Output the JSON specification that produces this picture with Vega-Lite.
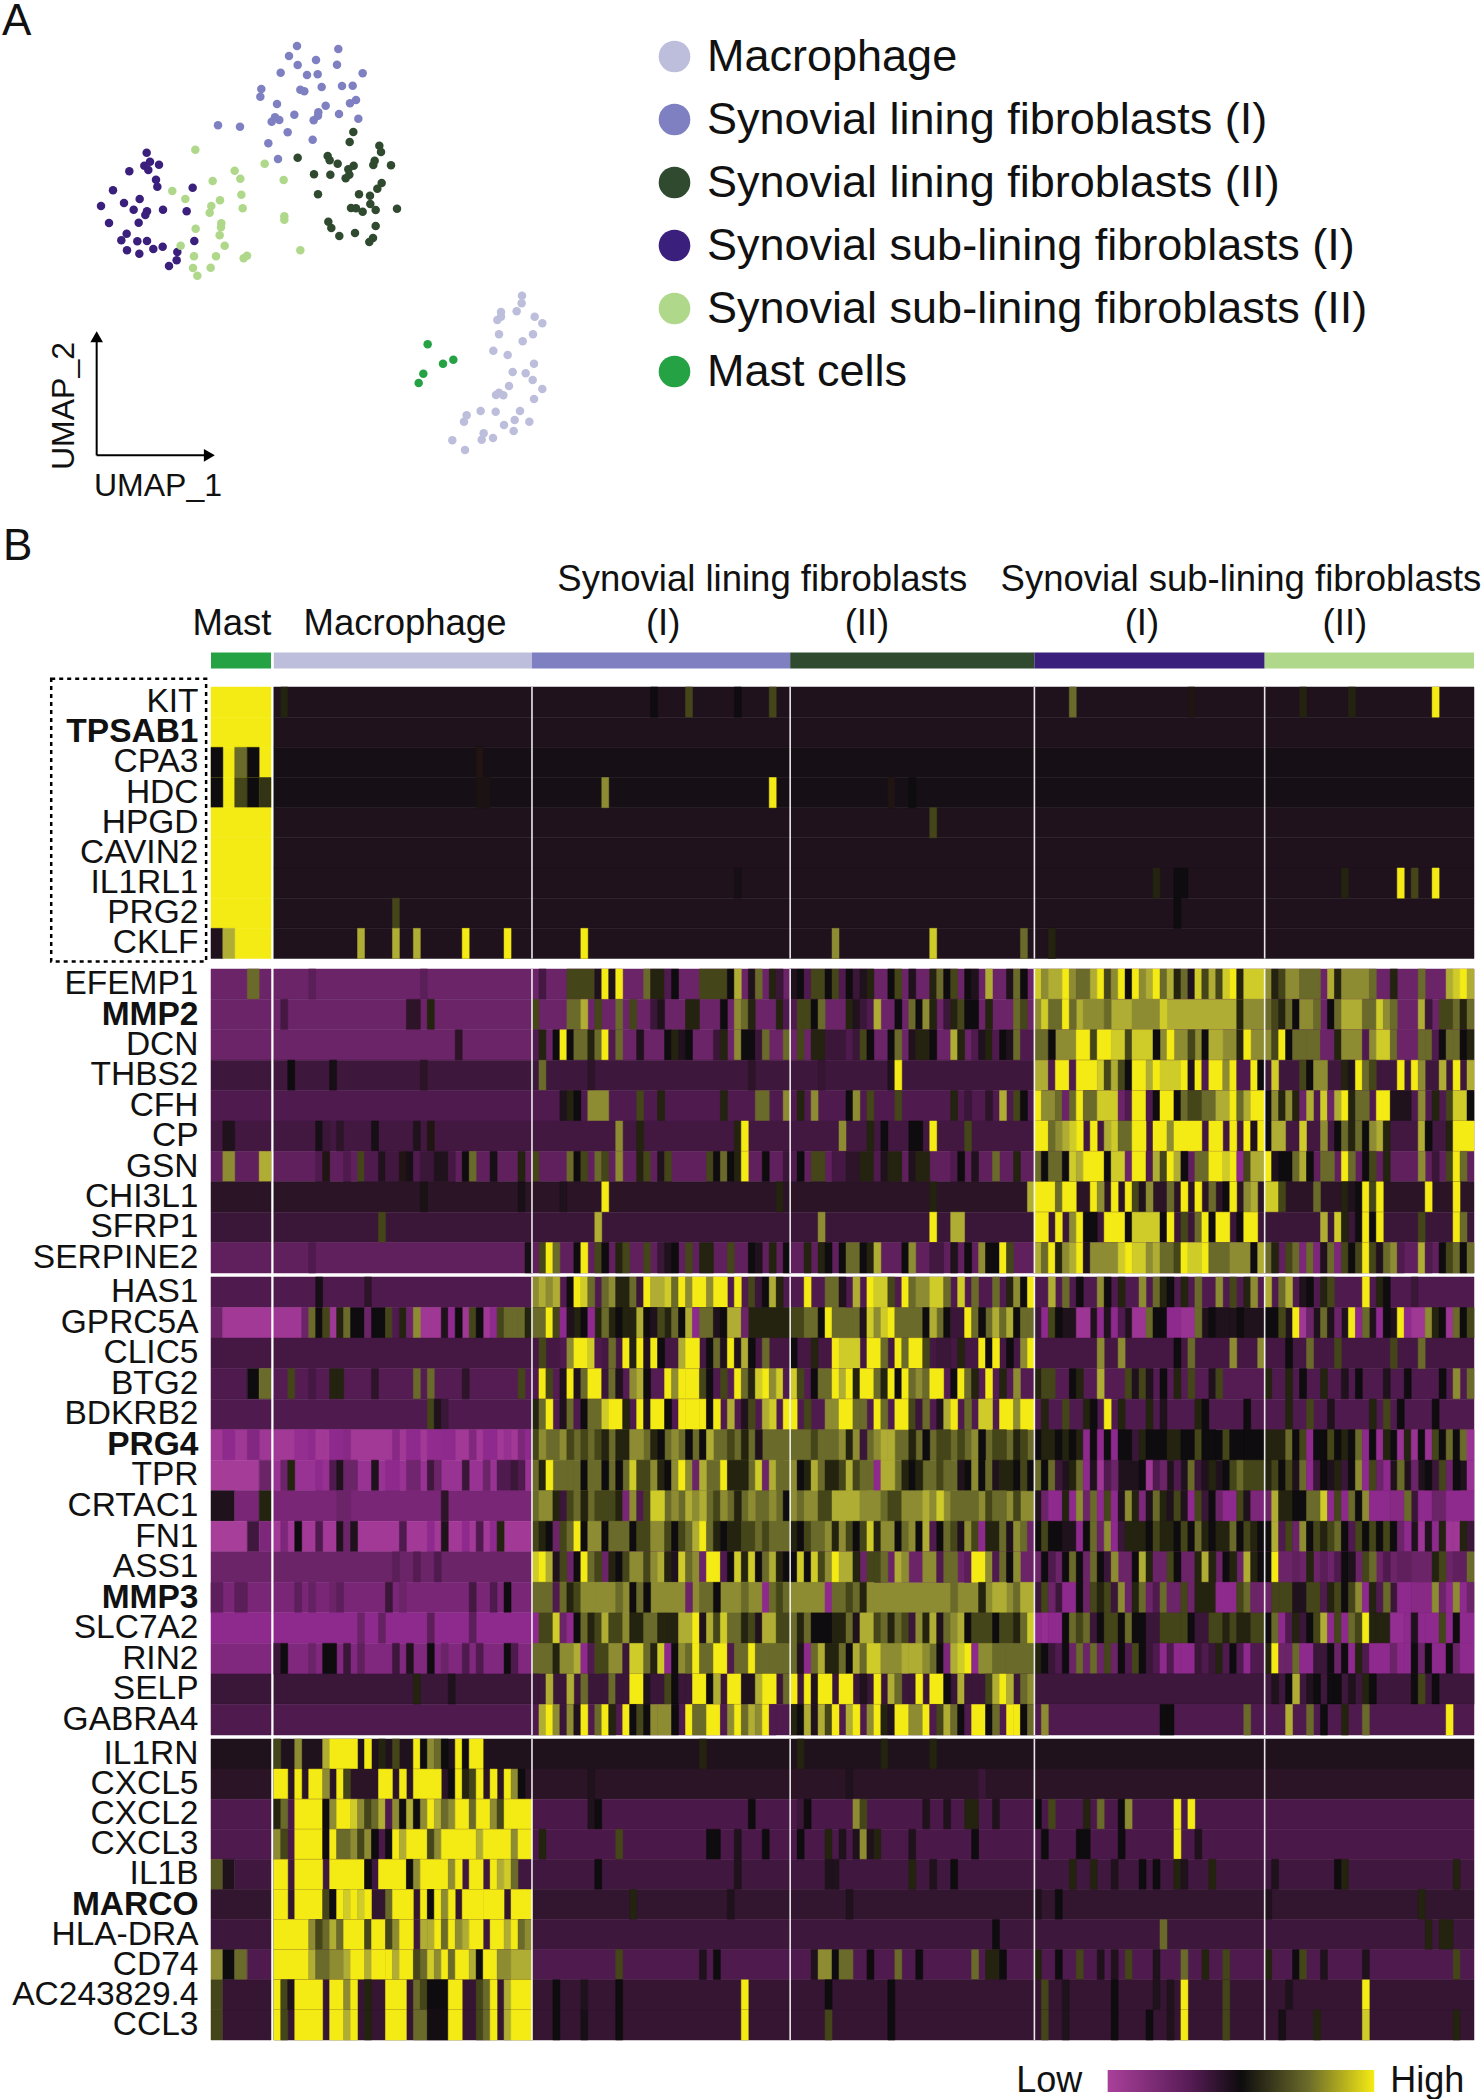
{"$schema":"https://vega.github.io/schema/vega-lite/v6.json","background":"white","padding":{"left":2,"top":0,"right":0,"bottom":0},"bounds":"flush","spacing":4,"config":{"view":{"stroke":null},"text":{"font":"Liberation Sans"},"font":"Liberation Sans"},"vconcat":[
{"width":1263,"height":514.5,"layer":[
{"data":{"values":"u,w,n\n708,66,Synovial lining fibroblasts (I)\n832,75,Synovial lining fibroblasts (I)\n684,96,Synovial lining fibroblasts (I)\n765,108,Synovial lining fibroblasts (I)\n710,123,Synovial lining fibroblasts (I)\n828,122,Synovial lining fibroblasts (I)\n659,146,Synovial lining fibroblasts (I)\n738,153,Synovial lining fibroblasts (I)\n770,151,Synovial lining fibroblasts (I)\n905,148,Synovial lining fibroblasts (I)\n601,195,Synovial lining fibroblasts (I)\n598,218,Synovial lining fibroblasts (I)\n718,197,Synovial lining fibroblasts (I)\n730,202,Synovial lining fibroblasts (I)\n782,189,Synovial lining fibroblasts (I)\n843,186,Synovial lining fibroblasts (I)\n875,185,Synovial lining fibroblasts (I)\n648,240,Synovial lining fibroblasts (I)\n885,228,Synovial lining fibroblasts (I)\n867,238,Synovial lining fibroblasts (I)\n794,245,Synovial lining fibroblasts (I)\n700,272,Synovial lining fibroblasts (I)\n772,265,Synovial lining fibroblasts (I)\n771,275,Synovial lining fibroblasts (I)\n834,270,Synovial lining fibroblasts (I)\n758,289,Synovial lining fibroblasts (I)\n892,284,Synovial lining fibroblasts (I)\n642,280,Synovial lining fibroblasts (I)\n632,293,Synovial lining fibroblasts (I)\n655,288,Synovial lining fibroblasts (I)\n680,325,Synovial lining fibroblasts (I)\n755,347,Synovial lining fibroblasts (I)\n622,358,Synovial lining fibroblasts (I)\n651,405,Synovial lining fibroblasts (I)\n471,304,Synovial lining fibroblasts (I)\n537,308,Synovial lining fibroblasts (I)\n877,324,Synovial lining fibroblasts (II)\n866,354,Synovial lining fibroblasts (II)\n955,365,Synovial lining fibroblasts (II)\n960,384,Synovial lining fibroblasts (II)\n710,401,Synovial lining fibroblasts (II)\n800,396,Synovial lining fibroblasts (II)\n806,409,Synovial lining fibroblasts (II)\n830,419,Synovial lining fibroblasts (II)\n878,425,Synovial lining fibroblasts (II)\n862,436,Synovial lining fibroblasts (II)\n941,410,Synovial lining fibroblasts (II)\n937,423,Synovial lining fibroblasts (II)\n990,424,Synovial lining fibroblasts (II)\n759,451,Synovial lining fibroblasts (II)\n808,452,Synovial lining fibroblasts (II)\n865,452,Synovial lining fibroblasts (II)\n854,463,Synovial lining fibroblasts (II)\n962,477,Synovial lining fibroblasts (II)\n949,494,Synovial lining fibroblasts (II)\n771,511,Synovial lining fibroblasts (II)\n894,511,Synovial lining fibroblasts (II)\n927,515,Synovial lining fibroblasts (II)\n928,540,Synovial lining fibroblasts (II)\n870,552,Synovial lining fibroblasts (II)\n885,553,Synovial lining fibroblasts (II)\n905,563,Synovial lining fibroblasts (II)\n944,558,Synovial lining fibroblasts (II)\n1008,554,Synovial lining fibroblasts (II)\n802,593,Synovial lining fibroblasts (II)\n811,612,Synovial lining fibroblasts (II)\n944,606,Synovial lining fibroblasts (II)\n835,636,Synovial lining fibroblasts (II)\n882,627,Synovial lining fibroblasts (II)\n936,642,Synovial lining fibroblasts (II)\n925,654,Synovial lining fibroblasts (II)\n257,386,Synovial sub-lining fibroblasts (I)\n267,413,Synovial sub-lining fibroblasts (I)\n250,425,Synovial sub-lining fibroblasts (I)\n294,422,Synovial sub-lining fibroblasts (I)\n262,438,Synovial sub-lining fibroblasts (I)\n205,442,Synovial sub-lining fibroblasts (I)\n285,467,Synovial sub-lining fibroblasts (I)\n289,488,Synovial sub-lining fibroblasts (I)\n395,491,Synovial sub-lining fibroblasts (I)\n156,499,Synovial sub-lining fibroblasts (I)\n236,525,Synovial sub-lining fibroblasts (I)\n189,537,Synovial sub-lining fibroblasts (I)\n120,546,Synovial sub-lining fibroblasts (I)\n218,557,Synovial sub-lining fibroblasts (I)\n258,562,Synovial sub-lining fibroblasts (I)\n253,573,Synovial sub-lining fibroblasts (I)\n306,557,Synovial sub-lining fibroblasts (I)\n377,562,Synovial sub-lining fibroblasts (I)\n144,597,Synovial sub-lining fibroblasts (I)\n233,596,Synovial sub-lining fibroblasts (I)\n197,629,Synovial sub-lining fibroblasts (I)\n181,649,Synovial sub-lining fibroblasts (I)\n229,652,Synovial sub-lining fibroblasts (I)\n258,651,Synovial sub-lining fibroblasts (I)\n305,668,Synovial sub-lining fibroblasts (I)\n400,651,Synovial sub-lining fibroblasts (I)\n277,675,Synovial sub-lining fibroblasts (I)\n198,679,Synovial sub-lining fibroblasts (I)\n235,689,Synovial sub-lining fibroblasts (I)\n349,684,Synovial sub-lining fibroblasts (I)\n347,709,Synovial sub-lining fibroblasts (I)\n324,726,Synovial sub-lining fibroblasts (I)\n403,377,Synovial sub-lining fibroblasts (II)\n611,419,Synovial sub-lining fibroblasts (II)\n521,440,Synovial sub-lining fibroblasts (II)\n538,464,Synovial sub-lining fibroblasts (II)\n455,471,Synovial sub-lining fibroblasts (II)\n668,468,Synovial sub-lining fibroblasts (II)\n334,501,Synovial sub-lining fibroblasts (II)\n373,525,Synovial sub-lining fibroblasts (II)\n541,512,Synovial sub-lining fibroblasts (II)\n477,529,Synovial sub-lining fibroblasts (II)\n451,546,Synovial sub-lining fibroblasts (II)\n446,566,Synovial sub-lining fibroblasts (II)\n545,553,Synovial sub-lining fibroblasts (II)\n670,577,Synovial sub-lining fibroblasts (II)\n670,587,Synovial sub-lining fibroblasts (II)\n481,598,Synovial sub-lining fibroblasts (II)\n404,614,Synovial sub-lining fibroblasts (II)\n480,610,Synovial sub-lining fibroblasts (II)\n476,634,Synovial sub-lining fibroblasts (II)\n359,665,Synovial sub-lining fibroblasts (II)\n491,665,Synovial sub-lining fibroblasts (II)\n399,697,Synovial sub-lining fibroblasts (II)\n465,697,Synovial sub-lining fibroblasts (II)\n558,695,Synovial sub-lining fibroblasts (II)\n548,703,Synovial sub-lining fibroblasts (II)\n718,679,Synovial sub-lining fibroblasts (II)\n396,732,Synovial sub-lining fibroblasts (II)\n449,731,Synovial sub-lining fibroblasts (II)\n409,755,Synovial sub-lining fibroblasts (II)\n1383,815,Macrophage\n1382,838,Macrophage\n1367,862,Macrophage\n1320,864,Macrophage\n1320,878,Macrophage\n1309,888,Macrophage\n1421,878,Macrophage\n1444,898,Macrophage\n1314,931,Macrophage\n1416,931,Macrophage\n1385,952,Macrophage\n1297,980,Macrophage\n1340,993,Macrophage\n1419,1019,Macrophage\n1355,1044,Macrophage\n1394,1048,Macrophage\n1415,1068,Macrophage\n1344,1086,Macrophage\n1444,1095,Macrophage\n1305,1113,Macrophage\n1314,1106,Macrophage\n1327,1114,Macrophage\n1419,1125,Macrophage\n1259,1161,Macrophage\n1304,1163,Macrophage\n1377,1161,Macrophage\n1217,1174,Macrophage\n1209,1193,Macrophage\n1361,1188,Macrophage\n1405,1193,Macrophage\n1329,1203,Macrophage\n1358,1221,Macrophage\n1268,1228,Macrophage\n1262,1247,Macrophage\n1296,1242,Macrophage\n1174,1249,Macrophage\n1212,1278,Macrophage\n1100,961,Mast cells\n1177,1007,Mast cells\n1146,1019,Mast cells\n1087,1049,Mast cells\n1073,1077,Mast cells","format":{"type":"csv","parse":{"u":"number","w":"number"}}},"mark":{"type":"point","filled":true,"size":72,"opacity":1},"encoding":{"x":{"field":"u","type":"quantitative","scale":{"domain":[450,4239],"nice":false,"zero":false},"axis":null},"y":{"field":"w","type":"quantitative","scale":{"domain":[1488,-60],"range":[516,0],"nice":false,"zero":false},"axis":null},"color":{"field":"n","type":"nominal","scale":{"domain":["Macrophage","Synovial lining fibroblasts (I)","Synovial lining fibroblasts (II)","Synovial sub-lining fibroblasts (I)","Synovial sub-lining fibroblasts (II)","Mast cells"],"range":["#BDBEDC","#7F80C2","#2F4A2F","#3B1F7C","#AFD88B","#25A244"]},"legend":{"orient":"none","legendX":441,"legendY":30,"title":null,"labelFontSize":45,"labelFont":"Liberation Sans","symbolSize":1000,"symbolType":"circle","rowPadding":17,"labelOffset":10,"labelLimit":900,"symbolOpacity":1,"labelColor":"#111"}}}},
{"data":{"values":[{"u":107,"w":1294,"u2":445,"w2":1294},{"u":107,"w":1294,"u2":107,"w2":935}]},"mark":{"type":"rule","color":"black","strokeWidth":2},"encoding":{"x":{"field":"u","type":"quantitative"},"x2":{"field":"u2"},"y":{"field":"w","type":"quantitative"},"y2":{"field":"w2"}}},
{"data":{"values":[{"u":445,"w":1294}]},"mark":{"type":"point","shape":"triangle-right","filled":true,"color":"black","size":160,"opacity":1},"encoding":{"x":{"field":"u","type":"quantitative"},"y":{"field":"w","type":"quantitative"}}},
{"data":{"values":[{"u":107,"w":938}]},"mark":{"type":"point","shape":"triangle-up","filled":true,"color":"black","size":160,"opacity":1},"encoding":{"x":{"field":"u","type":"quantitative"},"y":{"field":"w","type":"quantitative"}}},
{"data":{"values":[{"u":291,"w":1386,"t":"UMAP_1"}]},"mark":{"type":"text","fontSize":32,"color":"#111"},"encoding":{"x":{"field":"u","type":"quantitative"},"y":{"field":"w","type":"quantitative"},"text":{"field":"t"}}},
{"data":{"values":[{"u":9,"w":1146,"t":"UMAP_2"}]},"mark":{"type":"text","fontSize":32,"angle":270,"color":"#111"},"encoding":{"x":{"field":"u","type":"quantitative"},"y":{"field":"w","type":"quantitative"},"text":{"field":"t"}}},
{"data":{"values":[{"u":-177,"w":-6,"t":"A"}]},"mark":{"type":"text","fontSize":44,"align":"left","color":"#111"},"encoding":{"x":{"field":"u","type":"quantitative"},"y":{"field":"w","type":"quantitative"},"text":{"field":"t"}}}
]},
{"width":1263,"height":128,"layer":[{"data":{"values":[{"t":"Mast","c":3,"l":2},{"t":"Macrophage","c":27.8,"l":2},{"t":"Synovial lining fibroblasts","c":79,"l":1},{"t":"(I)","c":64.8,"l":2},{"t":"(II)","c":94,"l":2},{"t":"Synovial sub-lining fibroblasts","c":147.6,"l":1},{"t":"(I)","c":133.4,"l":2},{"t":"(II)","c":162.5,"l":2}]},"mark":{"type":"text","fontSize":36.5,"color":"#111"},"encoding":{"x":{"field":"c","type":"quantitative","scale":{"domain":[0,181],"nice":false,"zero":false},"axis":null},"y":{"field":"l","type":"quantitative","scale":{"domain":[-0.29,2.62],"range":[0,128],"nice":false,"zero":false},"axis":null},"text":{"field":"t"}}},{"data":{"values":[{"t":"B","c":-29.8,"l":0.26}]},"mark":{"type":"text","fontSize":44,"align":"left","color":"#111"},"encoding":{"x":{"field":"c","type":"quantitative"},"y":{"field":"l","type":"quantitative"},"text":{"field":"t"}}}]},
{"width":1263,"height":28,"data":{"values":[{"n":"Mast cells","c":0,"e":8.6},{"n":"Macrophage","c":9,"e":46},{"n":"Synovial lining fibroblasts (I)","c":46,"e":83},{"n":"Synovial lining fibroblasts (II)","c":83,"e":118},{"n":"Synovial sub-lining fibroblasts (I)","c":118,"e":151},{"n":"Synovial sub-lining fibroblasts (II)","c":151,"e":181}]},"mark":{"type":"rect","height":16,"yOffset":5.5},"encoding":{"x":{"field":"c","type":"quantitative","scale":{"domain":[0,181],"nice":false,"zero":false},"axis":null},"x2":{"field":"e"},"color":{"field":"n","type":"nominal","scale":{"domain":["Macrophage","Synovial lining fibroblasts (I)","Synovial lining fibroblasts (II)","Synovial sub-lining fibroblasts (I)","Synovial sub-lining fibroblasts (II)","Mast cells"],"range":["#BDBEDC","#7F80C2","#2F4A2F","#3B1F7C","#AFD88B","#25A244"]},"legend":null}}},
{"width":1263,"height":278,"layer":[{"data":{"values":"g,c,e,v\nKIT,0,8.6,13\nTPSAB1,0,8.6,13\nCPA3,0,8.6,13\nCPA3,0,1.7,6\nCPA3,3.4,5.2,9\nCPA3,5.2,6.9,6\nHDC,0,8.6,13\nHDC,0,1.7,6\nHDC,3.4,5.2,8\nHDC,5.2,6.9,6\nHDC,6.9,8.6,7.5\nHPGD,0,8.6,13\nCAVIN2,0,8.6,13\nIL1RL1,0,8.6,13\nPRG2,0,8.6,13\nCKLF,3.4,8.6,13\nCKLF,0,1.7,5\nCKLF,1.7,3.4,11\nKIT,9,181,5\nTPSAB1,9,181,5\nCPA3,9,181,5.6\nHDC,9,181,5.6\nHPGD,9,181,5\nCAVIN2,9,181,5\nIL1RL1,9,181,5\nPRG2,9,181,5\nCKLF,9,181,5\nKIT,10,11,7\nKIT,63,64,6\nKIT,68,69,8\nKIT,75,76,6\nKIT,80,81,8\nKIT,123,124,9\nKIT,140,141,6.5\nKIT,156,157,7\nKIT,163,164,7\nKIT,175,176,13\nCPA3,38,39,6.5\nHDC,38,40,6.3\nHDC,56,57,10\nHDC,80,81,13\nHDC,97,98,6.5\nHDC,100,101,6\nHPGD,103,104,8\nIL1RL1,75,76,5.6\nIL1RL1,135,136,7\nIL1RL1,138,140,6\nIL1RL1,162,163,7\nIL1RL1,170,171,13\nIL1RL1,172,173,8\nIL1RL1,175,176,13\nPRG2,26,27,8\nPRG2,138,139,6\nCKLF,21,22,11\nCKLF,26,27,11\nCKLF,29,30,11\nCKLF,36,37,13\nCKLF,42,43,13\nCKLF,53,54,13\nCKLF,89,90,10\nCKLF,103,104,12\nCKLF,116,117,9\nCKLF,120,121,7","format":{"type":"csv","parse":{"c":"number","e":"number","v":"number"}}},"mark":{"type":"rect","strokeWidth":0.5},"encoding":{"x":{"field":"c","type":"quantitative","scale":{"domain":[0,181],"nice":false,"zero":false},"axis":null},"x2":{"field":"e"},"y":{"field":"g","type":"nominal","sort":["KIT","TPSAB1","CPA3","HDC","HPGD","CAVIN2","IL1RL1","PRG2","CKLF"],"scale":{"range":[0,271.5]},"axis":{"title":null,"domain":false,"ticks":false,"labelFontSize":33.5,"labelFont":"Liberation Sans","labelPadding":13,"labelColor":"#111","labelOverlap":false,"labelLimit":400,"labelFontWeight":{"expr":"indexof(['TPSAB1','MMP2','PRG4','MMP3','MARCO'],datum.value)>=0?'bold':'normal'"}}},"color":{"field":"v","type":"quantitative","scale":{"domain":[0,1,2,3,4,5,6,7,8,9,10,11,12,13],"range":["#AA409B","#8E2A8D","#6B2468","#4F1A4E","#3A1638","#1F121C","#0E0C0E","#232310","#45451A","#6A6A2A","#8D8C33","#AFAD33","#CFCC2A","#F5EB14"]},"legend":null},"stroke":{"field":"v","type":"quantitative","scale":{"domain":[0,1,2,3,4,5,6,7,8,9,10,11,12,13],"range":["#AA409B","#8E2A8D","#6B2468","#4F1A4E","#3A1638","#1F121C","#0E0C0E","#232310","#45451A","#6A6A2A","#8D8C33","#AFAD33","#CFCC2A","#F5EB14"]},"legend":null}}},{"data":{"values":[{"c":46},{"c":83},{"c":118},{"c":151}]},"mark":{"type":"rule","color":"white","strokeWidth":1.6,"opacity":0.9},"encoding":{"x":{"field":"c","type":"quantitative"},"y":{"value":0},"y2":{"value":271.5}}},{"data":{"values":[{"c":-22.9,"e":-0.7,"y":-0.27,"y2":9.1}]},"mark":{"type":"rect","fill":"transparent","stroke":"black","strokeWidth":2.5,"strokeDash":[4,4]},"encoding":{"x":{"field":"c","type":"quantitative"},"x2":{"field":"e"},"y":{"field":"y","type":"quantitative","scale":{"domain":[0,9],"range":[0,271.5]},"axis":null},"y2":{"field":"y2"}}}],"resolve":{"scale":{"y":"independent"}}},
{"width":1263,"height":304,"layer":[{"data":{"values":"g,c,e,v\nEFEMP1,0,8.6,2\nEFEMP1,9,181,2\nEFEMP1,5.2,6.9,9\nEFEMP1,14,15,2.6\nEFEMP1,30,31,2.6\nEFEMP1,47,48,3.5\nEFEMP1,51,55,8\nEFEMP1,55,56,5\nEFEMP1,56,57,13\nEFEMP1,57,58,5\nEFEMP1,58,59,13\nEFEMP1,62,63,9\nEFEMP1,63,65,7\nEFEMP1,65,66,3\nEFEMP1,66,67,6\nEFEMP1,70,74,8\nEFEMP1,74,75,6\nEFEMP1,75,76,11\nEFEMP1,77,78,5\nEFEMP1,78,79,9\nEFEMP1,80,81,7\nEFEMP1,81,82,4\nEFEMP1,83,84,5\nEFEMP1,84,85,6\nEFEMP1,85,86,3\nEFEMP1,86,88,8\nEFEMP1,88,89,6\nEFEMP1,89,90,8\nEFEMP1,90,91,3\nEFEMP1,91,92,6\nEFEMP1,92,93,4\nEFEMP1,93,94,5\nEFEMP1,94,95,7\nEFEMP1,97,98,6\nEFEMP1,98,99,8\nEFEMP1,100,101,5\nEFEMP1,103,104,7\nEFEMP1,104,105,9\nEFEMP1,105,106,6\nEFEMP1,106,107,8\nEFEMP1,108,109,6\nEFEMP1,109,110,5\nEFEMP1,111,112,11\nEFEMP1,114,115,5\nEFEMP1,115,116,9\nEFEMP1,116,117,6\nEFEMP1,118,119,12\nEFEMP1,119,120,10\nEFEMP1,120,122,11\nEFEMP1,122,123,13\nEFEMP1,123,124,10\nEFEMP1,124,126,9\nEFEMP1,126,127,11\nEFEMP1,127,128,13\nEFEMP1,128,129,8\nEFEMP1,129,130,10\nEFEMP1,130,131,13\nEFEMP1,131,132,6\nEFEMP1,132,133,13\nEFEMP1,133,134,10\nEFEMP1,134,135,11\nEFEMP1,135,136,13\nEFEMP1,136,137,9\nEFEMP1,137,138,11\nEFEMP1,138,139,7\nEFEMP1,139,140,9\nEFEMP1,140,141,5\nEFEMP1,141,142,12\nEFEMP1,142,143,8\nEFEMP1,143,144,11\nEFEMP1,144,145,8\nEFEMP1,145,146,12\nEFEMP1,146,147,13\nEFEMP1,147,148,7\nEFEMP1,148,151,12\nEFEMP1,151,152,10\nEFEMP1,152,153,7\nEFEMP1,153,154,8\nEFEMP1,154,156,10\nEFEMP1,156,159,9\nEFEMP1,160,161,11\nEFEMP1,161,162,7\nEFEMP1,162,166,10\nEFEMP1,166,167,9\nEFEMP1,169,170,7\nEFEMP1,173,174,9\nEFEMP1,177,178,11\nEFEMP1,178,179,12\nEFEMP1,179,180,13\nEFEMP1,180,181,11\nMMP2,0,8.6,2\nMMP2,9,181,2\nMMP2,10,11,3.5\nMMP2,28,30,4.5\nMMP2,31,32,7\nMMP2,46,47,8\nMMP2,51,53,9\nMMP2,53,54,11\nMMP2,55,56,8\nMMP2,58,59,9\nMMP2,60,61,8\nMMP2,63,64,4\nMMP2,64,65,5\nMMP2,68,70,7\nMMP2,73,74,6\nMMP2,75,76,10\nMMP2,76,77,9\nMMP2,77,78,7\nMMP2,81,82,7\nMMP2,82,83,3\nMMP2,83,84,3\nMMP2,84,86,8\nMMP2,86,87,6\nMMP2,87,88,9\nMMP2,91,92,7\nMMP2,92,93,5\nMMP2,93,94,4\nMMP2,94,95,3\nMMP2,95,96,11\nMMP2,98,99,6\nMMP2,100,101,9\nMMP2,101,102,6\nMMP2,102,103,10\nMMP2,103,104,7\nMMP2,105,106,4\nMMP2,106,107,7\nMMP2,107,108,8\nMMP2,108,110,6\nMMP2,111,112,7\nMMP2,115,116,9\nMMP2,116,117,8\nMMP2,118,151,11\nMMP2,118,119,10\nMMP2,119,120,12\nMMP2,120,122,9\nMMP2,122,123,13\nMMP2,123,124,9\nMMP2,125,128,10\nMMP2,128,129,9\nMMP2,132,136,10\nMMP2,136,137,12\nMMP2,147,148,7\nMMP2,148,151,10\nMMP2,151,152,9\nMMP2,152,153,8\nMMP2,153,154,7\nMMP2,154,155,9\nMMP2,155,156,6\nMMP2,156,158,10\nMMP2,158,159,9\nMMP2,160,161,6\nMMP2,161,162,9\nMMP2,162,165,11\nMMP2,165,167,9\nMMP2,167,168,12\nMMP2,168,169,10\nMMP2,169,170,9\nMMP2,173,174,11\nMMP2,174,175,4\nMMP2,176,178,8\nMMP2,178,179,9\nMMP2,179,180,7\nMMP2,180,181,9\nDCN,0,8.6,2\nDCN,9,181,2\nDCN,35,36,4.5\nDCN,46,47,3\nDCN,47,48,7\nDCN,49,50,6\nDCN,50,51,13\nDCN,51,52,6\nDCN,52,54,9\nDCN,54,55,7\nDCN,55,56,9\nDCN,56,57,13\nDCN,57,58,3\nDCN,58,59,9\nDCN,61,62,5\nDCN,65,66,6\nDCN,66,67,7\nDCN,67,68,5\nDCN,68,69,6\nDCN,72,73,4\nDCN,73,74,7\nDCN,75,76,10\nDCN,76,78,6\nDCN,78,79,4\nDCN,79,80,9\nDCN,82,83,9\nDCN,84,85,8\nDCN,86,88,7\nDCN,88,91,4\nDCN,91,92,3\nDCN,92,93,4\nDCN,93,94,8\nDCN,94,95,6\nDCN,97,98,6\nDCN,98,99,9\nDCN,100,101,5\nDCN,101,103,7\nDCN,103,104,6\nDCN,106,107,11\nDCN,107,108,7\nDCN,109,110,3\nDCN,110,111,5\nDCN,111,112,7\nDCN,112,113,3\nDCN,113,114,6\nDCN,114,115,5\nDCN,115,116,9\nDCN,116,118,3\nDCN,118,151,10\nDCN,118,120,9\nDCN,120,121,6\nDCN,124,126,13\nDCN,126,127,8\nDCN,127,129,13\nDCN,129,131,12\nDCN,131,132,8\nDCN,132,135,12\nDCN,135,136,6\nDCN,137,138,13\nDCN,140,141,8\nDCN,142,143,6\nDCN,143,145,11\nDCN,147,148,7\nDCN,148,149,13\nDCN,151,152,10\nDCN,152,153,8\nDCN,153,154,13\nDCN,154,155,6\nDCN,155,157,9\nDCN,157,159,9\nDCN,159,161,2\nDCN,161,162,7\nDCN,162,165,10\nDCN,165,166,3\nDCN,166,167,10\nDCN,167,169,12\nDCN,169,170,9\nDCN,170,173,2\nDCN,173,174,9\nDCN,174,175,9\nDCN,175,176,3\nDCN,176,177,6\nDCN,177,178,9\nDCN,178,179,9\nDCN,179,180,6\nDCN,180,181,7\nTHBS2,0,8.6,3.8\nTHBS2,9,181,3.8\nTHBS2,11,12,6\nTHBS2,17,18,5.5\nTHBS2,30,31,4.6\nTHBS2,47,48,9\nTHBS2,54,55,4.5\nTHBS2,77,78,4.5\nTHBS2,87,88,4.2\nTHBS2,97,98,5\nTHBS2,98,99,13\nTHBS2,118,120,11\nTHBS2,120,121,3\nTHBS2,121,123,13\nTHBS2,123,124,3\nTHBS2,124,127,13\nTHBS2,127,128,12\nTHBS2,128,129,8\nTHBS2,129,130,11\nTHBS2,130,131,8\nTHBS2,131,132,6\nTHBS2,132,134,13\nTHBS2,134,135,11\nTHBS2,135,136,13\nTHBS2,136,139,12\nTHBS2,139,140,13\nTHBS2,140,141,5\nTHBS2,141,142,13\nTHBS2,142,143,3\nTHBS2,143,145,13\nTHBS2,145,146,10\nTHBS2,146,147,13\nTHBS2,147,149,3\nTHBS2,149,150,13\nTHBS2,150,151,6\nTHBS2,152,153,12\nTHBS2,156,157,8\nTHBS2,157,158,6\nTHBS2,158,160,10\nTHBS2,162,163,7\nTHBS2,163,164,5\nTHBS2,164,165,13\nTHBS2,165,166,9\nTHBS2,166,167,8\nTHBS2,170,171,13\nTHBS2,172,173,13\nTHBS2,173,174,10\nTHBS2,176,177,11\nTHBS2,178,179,13\nTHBS2,180,181,11\nCFH,0,8.6,3\nCFH,9,181,3\nCFH,50,51,5\nCFH,51,52,7\nCFH,52,53,6\nCFH,54,57,10\nCFH,61,62,8\nCFH,64,65,7\nCFH,73,74,7\nCFH,78,80,9\nCFH,82,83,10\nCFH,84,85,7\nCFH,86,87,10\nCFH,91,92,6\nCFH,92,93,10\nCFH,94,95,8\nCFH,98,99,8\nCFH,106,107,7\nCFH,108,109,4\nCFH,111,112,4.5\nCFH,113,114,11\nCFH,115,116,8\nCFH,116,117,6\nCFH,118,119,13\nCFH,119,121,10\nCFH,121,122,9\nCFH,122,123,2\nCFH,123,124,9\nCFH,124,125,13\nCFH,125,127,9\nCFH,127,130,12\nCFH,130,131,2\nCFH,131,132,3\nCFH,132,134,13\nCFH,134,135,3\nCFH,135,136,6\nCFH,136,138,13\nCFH,138,139,6\nCFH,139,140,9\nCFH,140,142,8\nCFH,142,144,9\nCFH,144,146,11\nCFH,146,147,13\nCFH,147,148,9\nCFH,148,149,11\nCFH,149,151,13\nCFH,151,152,6\nCFH,152,153,10\nCFH,153,154,7\nCFH,154,155,10\nCFH,155,156,7\nCFH,156,157,2\nCFH,157,158,11\nCFH,159,160,12\nCFH,160,161,2\nCFH,161,162,11\nCFH,162,163,13\nCFH,163,164,7\nCFH,164,166,9\nCFH,167,169,13\nCFH,169,172,5\nCFH,173,174,10\nCFH,175,176,7\nCFH,177,178,8\nCFH,178,180,12\nCFH,180,181,6\nCP,0,8.6,3.6\nCP,9,181,3.6\nCP,1.7,3.4,5\nCP,15,16,5.5\nCP,16,17,4\nCP,18,19,4.5\nCP,23,24,5.5\nCP,29,30,5\nCP,31,32,6.5\nCP,58,59,10\nCP,61,62,7\nCP,75,76,7\nCP,76,77,13\nCP,90,91,10\nCP,94,95,7\nCP,96,97,6\nCP,100,102,6\nCP,103,104,13\nCP,108,109,8\nCP,118,120,13\nCP,120,121,9\nCP,121,122,10\nCP,122,123,11\nCP,123,124,12\nCP,124,125,13\nCP,126,127,13\nCP,128,129,11\nCP,129,130,12\nCP,130,132,9\nCP,132,134,13\nCP,135,137,13\nCP,137,138,10\nCP,138,142,13\nCP,143,145,13\nCP,146,147,13\nCP,148,149,13\nCP,149,150,5\nCP,150,151,13\nCP,151,152,6\nCP,152,154,11\nCP,156,157,12\nCP,159,160,10\nCP,161,162,6\nCP,162,163,9\nCP,163,164,7\nCP,164,165,9\nCP,165,166,6\nCP,166,167,10\nCP,167,168,11\nCP,168,169,7\nCP,173,174,11\nCP,174,175,6\nCP,177,178,7\nCP,178,181,13\nGSN,0,8.6,2.4\nGSN,9,181,2.4\nGSN,1.7,3.4,10\nGSN,6.9,8.6,11\nGSN,15,16,3\nGSN,16,17,6.5\nGSN,19,20,3\nGSN,21,22,8\nGSN,22,24,3\nGSN,24,25,5\nGSN,25,27,3.7\nGSN,27,28,6.5\nGSN,28,29,5.5\nGSN,29,30,3\nGSN,30,32,4\nGSN,32,34,5\nGSN,34,35,3.5\nGSN,36,37,6\nGSN,37,38,9\nGSN,40,41,5.5\nGSN,44,45,7\nGSN,46,47,8\nGSN,51,52,9\nGSN,52,53,6\nGSN,53,54,8\nGSN,55,56,9\nGSN,56,57,8\nGSN,58,59,10\nGSN,61,62,7\nGSN,62,63,8\nGSN,64,65,5\nGSN,65,66,8\nGSN,71,72,8\nGSN,72,73,6\nGSN,73,74,9\nGSN,74,75,6\nGSN,75,76,7\nGSN,76,77,13\nGSN,79,80,6\nGSN,82,83,4\nGSN,83,84,3\nGSN,84,85,6\nGSN,86,88,8\nGSN,89,91,3.5\nGSN,91,93,4.5\nGSN,93,95,7\nGSN,95,96,3\nGSN,96,97,5\nGSN,97,99,7\nGSN,100,101,5\nGSN,101,103,7\nGSN,106,107,3\nGSN,107,108,6\nGSN,109,110,5\nGSN,112,113,9\nGSN,115,116,7\nGSN,118,119,9\nGSN,119,120,6\nGSN,120,122,9\nGSN,122,123,6\nGSN,123,124,12\nGSN,124,125,11\nGSN,125,128,13\nGSN,128,129,6\nGSN,129,131,12\nGSN,131,132,2\nGSN,132,134,13\nGSN,134,135,3\nGSN,135,136,11\nGSN,136,137,8\nGSN,137,138,13\nGSN,138,139,11\nGSN,139,140,6\nGSN,141,143,9\nGSN,143,145,13\nGSN,145,146,12\nGSN,146,147,13\nGSN,147,148,1\nGSN,148,149,8\nGSN,149,151,11\nGSN,151,152,13\nGSN,152,153,5\nGSN,153,155,6\nGSN,155,156,9\nGSN,156,157,11\nGSN,157,158,6\nGSN,159,161,9\nGSN,162,163,13\nGSN,163,164,9\nGSN,165,166,6\nGSN,166,167,8\nGSN,168,169,7\nGSN,173,174,10\nGSN,175,176,4\nGSN,177,178,8\nGSN,178,179,13\nGSN,179,180,9\nCHI3L1,0,8.6,4.6\nCHI3L1,9,181,4.6\nCHI3L1,30,31,6.3\nCHI3L1,44,45,5.4\nCHI3L1,50,51,5\nCHI3L1,56,57,13\nCHI3L1,81,82,7\nCHI3L1,103,104,7\nCHI3L1,117,118,11\nCHI3L1,118,121,13\nCHI3L1,121,122,9\nCHI3L1,122,124,13\nCHI3L1,126,127,13\nCHI3L1,127,128,10\nCHI3L1,129,130,13\nCHI3L1,131,132,13\nCHI3L1,132,133,8\nCHI3L1,133,134,5\nCHI3L1,134,135,10\nCHI3L1,137,138,9\nCHI3L1,139,140,13\nCHI3L1,141,142,13\nCHI3L1,143,144,9\nCHI3L1,145,146,6\nCHI3L1,146,147,13\nCHI3L1,148,149,10\nCHI3L1,149,150,11\nCHI3L1,151,153,12\nCHI3L1,153,154,8\nCHI3L1,158,159,9\nCHI3L1,162,163,7\nCHI3L1,163,164,5\nCHI3L1,164,165,6\nCHI3L1,165,166,13\nCHI3L1,166,167,8\nCHI3L1,167,168,13\nCHI3L1,174,175,13\nCHI3L1,178,179,13\nSFRP1,0,8.6,4\nSFRP1,9,181,4\nSFRP1,24,25,8\nSFRP1,55,56,11\nSFRP1,87,88,10\nSFRP1,103,104,13\nSFRP1,106,108,11\nSFRP1,118,120,13\nSFRP1,121,122,13\nSFRP1,123,124,10\nSFRP1,124,125,13\nSFRP1,125,127,6\nSFRP1,128,131,13\nSFRP1,131,132,6\nSFRP1,132,136,12\nSFRP1,136,137,6\nSFRP1,137,138,13\nSFRP1,139,140,8\nSFRP1,141,142,9\nSFRP1,142,143,13\nSFRP1,143,144,6\nSFRP1,144,146,13\nSFRP1,147,148,6\nSFRP1,148,150,13\nSFRP1,159,160,11\nSFRP1,161,162,12\nSFRP1,162,163,7\nSFRP1,164,165,6\nSFRP1,165,166,13\nSFRP1,166,167,6\nSFRP1,167,168,13\nSFRP1,173,174,8\nSFRP1,178,179,13\nSFRP1,179,180,9\nSERPINE2,0,8.6,2.4\nSERPINE2,9,181,2.4\nSERPINE2,14,15,3\nSERPINE2,45,46,5.5\nSERPINE2,47,48,8\nSERPINE2,48,49,13\nSERPINE2,49,50,9\nSERPINE2,52,53,6\nSERPINE2,53,54,13\nSERPINE2,55,56,8\nSERPINE2,56,57,6\nSERPINE2,58,59,7\nSERPINE2,59,60,8\nSERPINE2,62,63,8\nSERPINE2,64,65,4\nSERPINE2,65,66,5\nSERPINE2,66,67,6\nSERPINE2,68,69,8\nSERPINE2,70,72,7\nSERPINE2,74,75,8\nSERPINE2,77,78,6\nSERPINE2,78,79,5\nSERPINE2,80,81,7\nSERPINE2,82,83,6\nSERPINE2,85,86,7\nSERPINE2,87,88,7\nSERPINE2,88,89,6\nSERPINE2,90,91,6\nSERPINE2,91,93,9\nSERPINE2,93,94,6\nSERPINE2,94,95,7\nSERPINE2,95,96,11\nSERPINE2,99,100,6\nSERPINE2,100,101,10\nSERPINE2,103,105,3.6\nSERPINE2,106,107,5\nSERPINE2,108,109,6\nSERPINE2,110,111,10\nSERPINE2,111,113,6\nSERPINE2,113,114,13\nSERPINE2,114,115,8\nSERPINE2,118,119,11\nSERPINE2,119,120,9\nSERPINE2,120,121,13\nSERPINE2,121,122,7\nSERPINE2,122,123,10\nSERPINE2,123,124,11\nSERPINE2,124,125,13\nSERPINE2,125,126,5\nSERPINE2,126,130,10\nSERPINE2,130,131,12\nSERPINE2,131,132,13\nSERPINE2,132,134,12\nSERPINE2,134,135,10\nSERPINE2,135,136,11\nSERPINE2,136,138,9\nSERPINE2,138,139,8\nSERPINE2,139,140,13\nSERPINE2,140,142,12\nSERPINE2,142,143,13\nSERPINE2,143,146,9\nSERPINE2,146,149,10\nSERPINE2,149,150,6\nSERPINE2,150,151,11\nSERPINE2,151,152,9\nSERPINE2,152,153,7\nSERPINE2,154,155,8\nSERPINE2,155,156,9\nSERPINE2,156,157,1.5\nSERPINE2,157,158,9\nSERPINE2,158,159,1.5\nSERPINE2,159,160,5\nSERPINE2,160,161,9\nSERPINE2,161,162,1.5\nSERPINE2,162,163,8\nSERPINE2,163,164,6\nSERPINE2,164,165,8\nSERPINE2,165,166,13\nSERPINE2,166,167,8\nSERPINE2,167,168,5\nSERPINE2,168,169,9\nSERPINE2,169,170,10\nSERPINE2,170,171,3\nSERPINE2,173,174,11\nSERPINE2,174,175,3\nSERPINE2,176,177,6\nSERPINE2,177,178,8\nSERPINE2,178,179,9\nSERPINE2,179,180,6\nSERPINE2,180,181,9","format":{"type":"csv","parse":{"c":"number","e":"number","v":"number"}}},"mark":{"type":"rect","strokeWidth":0.5},"encoding":{"x":{"field":"c","type":"quantitative","scale":{"domain":[0,181],"nice":false,"zero":false},"axis":null},"x2":{"field":"e"},"y":{"field":"g","type":"nominal","sort":["EFEMP1","MMP2","DCN","THBS2","CFH","CP","GSN","CHI3L1","SFRP1","SERPINE2"],"axis":{"title":null,"domain":false,"ticks":false,"labelFontSize":33.5,"labelFont":"Liberation Sans","labelPadding":13,"labelColor":"#111","labelOverlap":false,"labelLimit":400,"labelFontWeight":{"expr":"indexof(['TPSAB1','MMP2','PRG4','MMP3','MARCO'],datum.value)>=0?'bold':'normal'"}}},"color":{"field":"v","type":"quantitative","scale":{"domain":[0,1,2,3,4,5,6,7,8,9,10,11,12,13],"range":["#AA409B","#8E2A8D","#6B2468","#4F1A4E","#3A1638","#1F121C","#0E0C0E","#232310","#45451A","#6A6A2A","#8D8C33","#AFAD33","#CFCC2A","#F5EB14"]},"legend":null},"stroke":{"field":"v","type":"quantitative","scale":{"domain":[0,1,2,3,4,5,6,7,8,9,10,11,12,13],"range":["#AA409B","#8E2A8D","#6B2468","#4F1A4E","#3A1638","#1F121C","#0E0C0E","#232310","#45451A","#6A6A2A","#8D8C33","#AFAD33","#CFCC2A","#F5EB14"]},"legend":null}}},{"data":{"values":[{"c":46},{"c":83},{"c":118},{"c":151}]},"mark":{"type":"rule","color":"white","strokeWidth":1.6,"opacity":0.9},"encoding":{"x":{"field":"c","type":"quantitative"}}}]},
{"width":1263,"height":458,"layer":[{"data":{"values":"g,c,e,v\nGPRC5A,83,118,9\nGPRC5A,118,181,5\nBTG2,151,181,3\nPRG4,83,118,9\nPRG4,118,181,6\nTPR,83,118,9\nTPR,118,181,5\nCRTAC1,83,118,10\nCRTAC1,118,181,4\nFN1,46,118,9\nFN1,118,181,5\nMMP3,83,118,10\nMMP3,118,181,4\nSLC7A2,46,118,9\nSLC7A2,118,181,4\nRIN2,46,118,9\nRIN2,118,181,3\nHAS1,0,8.6,3\nHAS1,9,181,3\nHAS1,15,16,5.5\nHAS1,22,23,4.5\nHAS1,46,47,10\nHAS1,47,48,11\nHAS1,48,49,10\nHAS1,49,50,11\nHAS1,51,52,6\nHAS1,52,53,13\nHAS1,53,54,12\nHAS1,54,55,9\nHAS1,56,57,9\nHAS1,57,58,10\nHAS1,58,60,7\nHAS1,60,61,9\nHAS1,61,62,4\nHAS1,62,63,13\nHAS1,63,65,11\nHAS1,65,66,12\nHAS1,66,67,9\nHAS1,67,68,13\nHAS1,68,69,10\nHAS1,69,71,13\nHAS1,71,72,10\nHAS1,72,74,13\nHAS1,75,76,13\nHAS1,77,78,8\nHAS1,78,79,4\nHAS1,79,80,6\nHAS1,80,81,11\nHAS1,81,82,7\nHAS1,85,86,13\nHAS1,88,90,9\nHAS1,90,91,5\nHAS1,92,93,11\nHAS1,94,95,13\nHAS1,95,97,12\nHAS1,97,98,8\nHAS1,99,100,13\nHAS1,100,101,9\nHAS1,101,103,10\nHAS1,103,105,12\nHAS1,105,106,9\nHAS1,107,108,12\nHAS1,109,110,9\nHAS1,112,113,9\nHAS1,114,115,7\nHAS1,115,116,10\nHAS1,116,117,6\nHAS1,117,118,13\nHAS1,120,121,11\nHAS1,122,123,9\nHAS1,124,125,6\nHAS1,127,128,10\nHAS1,128,129,6\nHAS1,130,131,7\nHAS1,133,134,10\nHAS1,135,136,9\nHAS1,136,137,7\nHAS1,137,138,6\nHAS1,139,140,7\nHAS1,141,142,9\nHAS1,144,145,10\nHAS1,146,147,8\nHAS1,148,149,7\nHAS1,149,150,10\nHAS1,151,152,11\nHAS1,153,154,9\nHAS1,154,155,11\nHAS1,156,157,5\nHAS1,157,158,6\nHAS1,159,160,7\nHAS1,160,161,8\nHAS1,165,166,13\nHAS1,167,168,7\nHAS1,168,169,6\nHAS1,172,173,4\nGPRC5A,0,1.7,2\nGPRC5A,1.7,8.6,0.3\nGPRC5A,9,46,0.4\nGPRC5A,13,14,2\nGPRC5A,14,15,9\nGPRC5A,15,16,6\nGPRC5A,16,17,8\nGPRC5A,18,19,7\nGPRC5A,19,20,9\nGPRC5A,20,22,6\nGPRC5A,22,23,2\nGPRC5A,23,25,6\nGPRC5A,25,26,8\nGPRC5A,26,27,3\nGPRC5A,27,28,7\nGPRC5A,28,29,2\nGPRC5A,29,30,10\nGPRC5A,33,34,5\nGPRC5A,34,35,1\nGPRC5A,35,36,6\nGPRC5A,37,38,8\nGPRC5A,38,39,6\nGPRC5A,40,41,1\nGPRC5A,41,42,8\nGPRC5A,42,44,9\nGPRC5A,44,45,9\nGPRC5A,45,46,7\nGPRC5A,46,83,7\nGPRC5A,46,48,9\nGPRC5A,48,49,13\nGPRC5A,49,50,8\nGPRC5A,50,51,1\nGPRC5A,51,52,5\nGPRC5A,53,54,6\nGPRC5A,54,55,1\nGPRC5A,56,57,9\nGPRC5A,58,59,6\nGPRC5A,59,60,7\nGPRC5A,61,62,11\nGPRC5A,62,63,6\nGPRC5A,63,64,5\nGPRC5A,64,65,8\nGPRC5A,66,67,9\nGPRC5A,67,68,6\nGPRC5A,68,69,11\nGPRC5A,69,70,1\nGPRC5A,70,72,9\nGPRC5A,72,73,5\nGPRC5A,73,74,6\nGPRC5A,74,76,11\nGPRC5A,76,77,2\nGPRC5A,83,85,8\nGPRC5A,85,87,9\nGPRC5A,87,88,6\nGPRC5A,88,89,13\nGPRC5A,89,91,9\nGPRC5A,92,93,9\nGPRC5A,93,94,5\nGPRC5A,94,95,12\nGPRC5A,95,96,10\nGPRC5A,96,97,12\nGPRC5A,97,98,13\nGPRC5A,98,102,9\nGPRC5A,102,103,6\nGPRC5A,103,104,11\nGPRC5A,105,106,6\nGPRC5A,106,108,4\nGPRC5A,108,109,13\nGPRC5A,109,110,9\nGPRC5A,110,111,6\nGPRC5A,112,113,11\nGPRC5A,113,114,9\nGPRC5A,114,115,11\nGPRC5A,115,116,6\nGPRC5A,116,117,9\nGPRC5A,118,119,4\nGPRC5A,119,120,1\nGPRC5A,120,121,8\nGPRC5A,121,122,6\nGPRC5A,124,126,0.5\nGPRC5A,127,128,1\nGPRC5A,128,129,5\nGPRC5A,129,130,1\nGPRC5A,130,131,3\nGPRC5A,132,134,0.5\nGPRC5A,134,135,9\nGPRC5A,135,137,6\nGPRC5A,137,139,1\nGPRC5A,139,141,0.6\nGPRC5A,141,142,9\nGPRC5A,143,144,6\nGPRC5A,144,146,5\nGPRC5A,147,148,6\nGPRC5A,151,153,6\nGPRC5A,153,154,8\nGPRC5A,155,156,13\nGPRC5A,156,157,0.4\nGPRC5A,157,158,2\nGPRC5A,159,160,9\nGPRC5A,160,161,5\nGPRC5A,161,162,2\nGPRC5A,163,164,13\nGPRC5A,164,165,1\nGPRC5A,165,166,9\nGPRC5A,167,168,1\nGPRC5A,168,169,6\nGPRC5A,170,171,13\nGPRC5A,171,172,1\nGPRC5A,172,174,0.4\nGPRC5A,174,175,10\nGPRC5A,175,176,7\nGPRC5A,176,177,6\nGPRC5A,177,178,0.5\nGPRC5A,178,179,9\nGPRC5A,179,180,6\nGPRC5A,180,181,8\nCLIC5,0,8.6,3.5\nCLIC5,9,181,3.5\nCLIC5,47,48,8\nCLIC5,50,51,3\nCLIC5,51,52,10\nCLIC5,52,54,13\nCLIC5,54,55,12\nCLIC5,55,56,3\nCLIC5,57,58,9\nCLIC5,59,60,13\nCLIC5,60,61,7\nCLIC5,61,62,13\nCLIC5,62,63,5\nCLIC5,63,64,13\nCLIC5,64,65,6\nCLIC5,67,68,11\nCLIC5,68,70,13\nCLIC5,71,72,6\nCLIC5,72,73,9\nCLIC5,73,74,5\nCLIC5,74,75,13\nCLIC5,75,76,5\nCLIC5,76,77,11\nCLIC5,77,78,6\nCLIC5,79,80,9\nCLIC5,83,84,6\nCLIC5,86,87,7\nCLIC5,89,90,13\nCLIC5,90,93,12\nCLIC5,94,96,13\nCLIC5,96,97,9\nCLIC5,98,99,13\nCLIC5,99,100,9\nCLIC5,100,102,13\nCLIC5,102,103,8\nCLIC5,104,106,4\nCLIC5,107,108,7\nCLIC5,110,111,13\nCLIC5,111,112,6\nCLIC5,112,113,13\nCLIC5,114,115,6\nCLIC5,116,117,10\nCLIC5,117,118,13\nCLIC5,127,128,10\nCLIC5,130,131,10\nCLIC5,138,139,6\nCLIC5,140,141,9\nCLIC5,146,147,10\nCLIC5,150,151,10\nCLIC5,154,155,6\nCLIC5,157,158,9\nCLIC5,161,162,8\nCLIC5,169,170,8\nCLIC5,173,174,9\nBTG2,0,5.2,3\nBTG2,5.2,6.9,6\nBTG2,6.9,8.6,9\nBTG2,9,46,2.8\nBTG2,11,12,8\nBTG2,14,15,3.5\nBTG2,17,18,7\nBTG2,18,19,7\nBTG2,23,24,4.5\nBTG2,29,30,9\nBTG2,31,32,9\nBTG2,36,37,4.5\nBTG2,44,45,8\nBTG2,46,151,2.8\nBTG2,46,47,3\nBTG2,47,48,13\nBTG2,48,49,8\nBTG2,50,51,5\nBTG2,51,52,13\nBTG2,52,53,5\nBTG2,53,54,9\nBTG2,54,56,13\nBTG2,56,57,4\nBTG2,57,58,9\nBTG2,58,59,5\nBTG2,60,61,10\nBTG2,61,62,11\nBTG2,62,63,6\nBTG2,65,66,13\nBTG2,66,67,10\nBTG2,67,68,13\nBTG2,68,70,13\nBTG2,70,71,8\nBTG2,71,72,6\nBTG2,72,73,3\nBTG2,73,74,8\nBTG2,75,76,13\nBTG2,76,77,9\nBTG2,77,78,7\nBTG2,78,79,12\nBTG2,79,80,13\nBTG2,80,81,10\nBTG2,81,82,12\nBTG2,82,83,3\nBTG2,83,84,12\nBTG2,84,85,8\nBTG2,86,87,6\nBTG2,87,89,9\nBTG2,89,90,13\nBTG2,90,91,11\nBTG2,91,92,13\nBTG2,92,93,7\nBTG2,93,95,13\nBTG2,95,96,9\nBTG2,96,97,7\nBTG2,97,98,13\nBTG2,98,99,6\nBTG2,99,100,13\nBTG2,100,101,9\nBTG2,101,102,10\nBTG2,102,103,9\nBTG2,103,105,13\nBTG2,106,107,6\nBTG2,107,108,13\nBTG2,108,109,9\nBTG2,109,110,7\nBTG2,111,112,13\nBTG2,113,114,7\nBTG2,115,116,10\nBTG2,118,119,7\nBTG2,119,121,8\nBTG2,123,124,6\nBTG2,124,125,7\nBTG2,127,128,11\nBTG2,131,132,8\nBTG2,132,133,5\nBTG2,133,134,8\nBTG2,134,135,5\nBTG2,136,137,6\nBTG2,138,139,7\nBTG2,140,141,8\nBTG2,143,144,5\nBTG2,144,145,8\nBTG2,151,152,7\nBTG2,154,155,7\nBTG2,156,157,6\nBTG2,159,160,7\nBTG2,162,163,5\nBTG2,164,165,6\nBTG2,168,169,5\nBTG2,171,172,6\nBTG2,176,177,6\nBTG2,178,179,10\nBTG2,180,181,9\nBDKRB2,0,8.6,3\nBDKRB2,9,181,3\nBDKRB2,31,32,8\nBDKRB2,32,33,5\nBDKRB2,33,34,4\nBDKRB2,46,47,7\nBDKRB2,47,48,9\nBDKRB2,48,49,13\nBDKRB2,50,51,5\nBDKRB2,51,52,9\nBDKRB2,52,53,3\nBDKRB2,53,54,6\nBDKRB2,54,56,9\nBDKRB2,56,57,12\nBDKRB2,57,59,13\nBDKRB2,59,60,7\nBDKRB2,61,62,13\nBDKRB2,62,63,5\nBDKRB2,63,65,13\nBDKRB2,65,66,6\nBDKRB2,67,68,13\nBDKRB2,68,70,13\nBDKRB2,70,71,13\nBDKRB2,71,72,6\nBDKRB2,72,73,13\nBDKRB2,74,75,11\nBDKRB2,76,77,5\nBDKRB2,77,78,8\nBDKRB2,79,80,11\nBDKRB2,80,81,12\nBDKRB2,82,83,13\nBDKRB2,83,84,13\nBDKRB2,85,86,8\nBDKRB2,88,89,10\nBDKRB2,89,90,10\nBDKRB2,90,92,13\nBDKRB2,92,93,9\nBDKRB2,93,94,9\nBDKRB2,95,96,13\nBDKRB2,96,97,9\nBDKRB2,98,100,13\nBDKRB2,100,101,8\nBDKRB2,101,102,4\nBDKRB2,102,103,9\nBDKRB2,104,105,5\nBDKRB2,105,106,11\nBDKRB2,106,107,13\nBDKRB2,108,109,9\nBDKRB2,110,112,12\nBDKRB2,113,115,13\nBDKRB2,115,116,10\nBDKRB2,116,118,13\nBDKRB2,119,120,7\nBDKRB2,122,123,8\nBDKRB2,125,126,7\nBDKRB2,126,127,6\nBDKRB2,128,129,13\nBDKRB2,130,131,7\nBDKRB2,134,135,7\nBDKRB2,136,137,5\nBDKRB2,141,142,7\nBDKRB2,142,143,6\nBDKRB2,148,149,6\nBDKRB2,154,155,7\nBDKRB2,157,158,8\nBDKRB2,160,161,5\nBDKRB2,166,167,7\nBDKRB2,168,169,8\nBDKRB2,170,171,6\nBDKRB2,175,176,6\nPRG4,0,8.6,0.4\nPRG4,1.7,3.4,1\nPRG4,5.2,6.9,1.3\nPRG4,9,46,0.3\nPRG4,12,14,0.8\nPRG4,14,15,1\nPRG4,15,16,0.3\nPRG4,17,19,1\nPRG4,19,20,1.2\nPRG4,26,27,1.2\nPRG4,28,30,1\nPRG4,31,33,0.9\nPRG4,33,35,1\nPRG4,37,38,1.4\nPRG4,39,41,1\nPRG4,42,43,0.7\nPRG4,44,45,1.5\nPRG4,45,46,1\nPRG4,46,83,9\nPRG4,46,47,8\nPRG4,47,48,10\nPRG4,50,51,10\nPRG4,51,52,8\nPRG4,53,54,8\nPRG4,55,56,8\nPRG4,56,57,7\nPRG4,58,60,7\nPRG4,60,62,10\nPRG4,63,64,7\nPRG4,64,65,6\nPRG4,66,67,10\nPRG4,68,69,6\nPRG4,70,71,6\nPRG4,71,72,11\nPRG4,74,75,8\nPRG4,76,77,7\nPRG4,78,79,5\nPRG4,83,86,9\nPRG4,86,87,8\nPRG4,87,90,9\nPRG4,90,91,10\nPRG4,91,92,7\nPRG4,92,93,10\nPRG4,93,94,4\nPRG4,95,96,10\nPRG4,96,97,11\nPRG4,97,98,11\nPRG4,100,101,7\nPRG4,102,103,6\nPRG4,104,106,8\nPRG4,107,108,8\nPRG4,109,110,10\nPRG4,110,111,6\nPRG4,112,114,8\nPRG4,115,116,7\nPRG4,116,117,8\nPRG4,118,119,6\nPRG4,119,121,7\nPRG4,121,122,6\nPRG4,122,123,7\nPRG4,123,124,6\nPRG4,124,125,7\nPRG4,125,126,1\nPRG4,126,127,6\nPRG4,127,128,1\nPRG4,128,129,6\nPRG4,129,130,1\nPRG4,130,132,6\nPRG4,132,133,4\nPRG4,133,134,7\nPRG4,134,137,6\nPRG4,137,139,7\nPRG4,139,141,6\nPRG4,141,142,8\nPRG4,142,144,6\nPRG4,145,146,8\nPRG4,146,148,6\nPRG4,148,151,6\nPRG4,151,154,7\nPRG4,154,155,9\nPRG4,155,156,6\nPRG4,156,157,8\nPRG4,157,158,1\nPRG4,158,160,6\nPRG4,160,161,8\nPRG4,161,162,6\nPRG4,162,163,7\nPRG4,163,164,6\nPRG4,164,165,9\nPRG4,165,166,1\nPRG4,166,167,6\nPRG4,167,168,0.8\nPRG4,168,169,7\nPRG4,170,171,0.6\nPRG4,171,172,7\nPRG4,172,173,0.6\nPRG4,173,174,6\nPRG4,174,175,0.6\nPRG4,175,176,8\nPRG4,176,177,6\nPRG4,177,178,9\nPRG4,178,179,6\nPRG4,179,180,9\nPRG4,180,181,0.6\nTPR,0,6.9,0.2\nTPR,6.9,8.6,2\nTPR,9,46,0.6\nTPR,10,11,2\nTPR,11,12,7\nTPR,15,16,1\nTPR,16,17,0.7\nTPR,17,18,3\nTPR,18,19,5\nTPR,19,21,2\nTPR,23,24,5\nTPR,25,27,1\nTPR,28,30,1.8\nTPR,31,32,3.7\nTPR,32,33,2\nTPR,36,37,4\nTPR,39,40,2\nTPR,41,43,3\nTPR,43,44,4\nTPR,44,45,3\nTPR,46,83,9\nTPR,47,48,7\nTPR,48,49,13\nTPR,51,52,9\nTPR,53,54,6\nTPR,54,55,9\nTPR,56,57,6\nTPR,58,59,6\nTPR,60,61,12\nTPR,61,63,8\nTPR,63,64,10\nTPR,64,65,7\nTPR,65,66,6\nTPR,66,67,10\nTPR,67,68,13\nTPR,68,69,10\nTPR,69,70,2\nTPR,70,71,11\nTPR,73,74,13\nTPR,74,77,7\nTPR,78,79,12\nTPR,79,80,2\nTPR,80,81,11\nTPR,81,82,9\nTPR,83,84,10\nTPR,84,85,6\nTPR,85,86,7\nTPR,86,87,11\nTPR,87,88,9\nTPR,88,90,7\nTPR,90,91,8\nTPR,91,92,11\nTPR,92,93,8\nTPR,93,94,9\nTPR,95,96,1\nTPR,96,98,11\nTPR,99,100,7\nTPR,100,101,6\nTPR,101,102,7\nTPR,104,105,8\nTPR,105,106,9\nTPR,107,108,5\nTPR,108,109,6\nTPR,109,110,10\nTPR,110,111,6\nTPR,111,112,9\nTPR,112,113,5\nTPR,113,115,7\nTPR,115,116,6\nTPR,116,117,8\nTPR,117,118,6\nTPR,118,119,9\nTPR,119,120,6\nTPR,120,121,9\nTPR,121,122,4\nTPR,123,124,7\nTPR,124,125,9\nTPR,125,126,1\nTPR,126,127,5\nTPR,127,128,0.4\nTPR,128,129,3\nTPR,129,130,2\nTPR,131,132,5\nTPR,133,134,6\nTPR,134,135,0.4\nTPR,135,136,3\nTPR,136,137,2\nTPR,138,139,3\nTPR,140,141,9\nTPR,141,142,4\nTPR,142,143,5\nTPR,143,144,7\nTPR,145,146,6\nTPR,146,147,8\nTPR,147,148,9\nTPR,148,151,8\nTPR,151,152,7\nTPR,152,153,8\nTPR,153,154,6\nTPR,154,155,8\nTPR,155,156,5\nTPR,156,157,9\nTPR,157,158,1\nTPR,158,159,4\nTPR,159,160,6\nTPR,160,161,5\nTPR,161,162,7\nTPR,162,163,4\nTPR,163,164,6\nTPR,164,165,10\nTPR,165,166,1\nTPR,166,167,8\nTPR,167,168,2\nTPR,168,169,1\nTPR,170,171,9\nTPR,172,173,2\nTPR,174,175,6\nTPR,175,176,4\nTPR,176,177,8\nTPR,177,178,2\nTPR,178,179,6\nTPR,180,181,0.6\nCRTAC1,0,3.4,5\nCRTAC1,3.4,6.9,1.6\nCRTAC1,6.9,8.6,7\nCRTAC1,9,46,1.6\nCRTAC1,18,20,2\nCRTAC1,33,34,4.5\nCRTAC1,46,83,9\nCRTAC1,47,49,10\nCRTAC1,49,50,7\nCRTAC1,50,51,4\nCRTAC1,51,52,8\nCRTAC1,52,53,9\nCRTAC1,53,54,7\nCRTAC1,55,58,8\nCRTAC1,58,59,7\nCRTAC1,59,60,1.6\nCRTAC1,60,61,10\nCRTAC1,61,62,3\nCRTAC1,62,63,8\nCRTAC1,63,65,12\nCRTAC1,66,67,10\nCRTAC1,68,69,11\nCRTAC1,69,70,10\nCRTAC1,70,71,11\nCRTAC1,72,73,8\nCRTAC1,73,74,10\nCRTAC1,75,76,7\nCRTAC1,77,78,10\nCRTAC1,80,81,10\nCRTAC1,82,83,6\nCRTAC1,83,84,10\nCRTAC1,84,85,9\nCRTAC1,85,86,10\nCRTAC1,87,89,8\nCRTAC1,89,93,11\nCRTAC1,93,96,10\nCRTAC1,96,97,9\nCRTAC1,97,99,8\nCRTAC1,99,102,10\nCRTAC1,102,103,11\nCRTAC1,103,104,10\nCRTAC1,104,105,12\nCRTAC1,106,110,9\nCRTAC1,111,112,8\nCRTAC1,112,114,9\nCRTAC1,115,116,8\nCRTAC1,118,119,5\nCRTAC1,119,120,2\nCRTAC1,120,122,1\nCRTAC1,122,123,7\nCRTAC1,123,124,1\nCRTAC1,124,125,10\nCRTAC1,125,126,2\nCRTAC1,126,127,9\nCRTAC1,127,128,1\nCRTAC1,128,129,8\nCRTAC1,129,130,1\nCRTAC1,130,131,5\nCRTAC1,131,132,10\nCRTAC1,132,133,7\nCRTAC1,133,134,1.5\nCRTAC1,134,135,5\nCRTAC1,135,136,9\nCRTAC1,136,137,7\nCRTAC1,137,138,5\nCRTAC1,138,139,8\nCRTAC1,139,140,5\nCRTAC1,140,141,1\nCRTAC1,141,142,8\nCRTAC1,142,143,4\nCRTAC1,143,144,6\nCRTAC1,144,145,2\nCRTAC1,145,147,1\nCRTAC1,147,148,8\nCRTAC1,148,149,5\nCRTAC1,149,151,1.5\nCRTAC1,151,152,2\nCRTAC1,152,153,11\nCRTAC1,153,155,7\nCRTAC1,155,157,6\nCRTAC1,157,159,9\nCRTAC1,159,160,12\nCRTAC1,160,161,1\nCRTAC1,161,162,8\nCRTAC1,162,163,1\nCRTAC1,163,164,9\nCRTAC1,164,165,6\nCRTAC1,165,166,10\nCRTAC1,166,169,1\nCRTAC1,169,171,1.2\nCRTAC1,171,172,9\nCRTAC1,173,175,1\nCRTAC1,175,177,2\nCRTAC1,177,181,1\nFN1,0,5.2,0.1\nFN1,5.2,6.9,3.7\nFN1,6.9,8.6,1.5\nFN1,9,46,0.3\nFN1,10,11,1.5\nFN1,12,13,6\nFN1,15,16,3\nFN1,18,19,5\nFN1,19,20,2\nFN1,20,21,5\nFN1,27,28,3\nFN1,31,32,1\nFN1,33,34,5\nFN1,36,37,1\nFN1,38,39,3\nFN1,40,41,1\nFN1,41,42,7\nFN1,46,47,8\nFN1,47,48,7\nFN1,48,49,6\nFN1,49,50,2\nFN1,50,51,8\nFN1,51,52,9\nFN1,52,53,13\nFN1,53,54,6\nFN1,54,56,10\nFN1,56,57,6\nFN1,57,60,9\nFN1,60,61,6\nFN1,61,63,8\nFN1,63,65,10\nFN1,65,66,8\nFN1,66,67,6\nFN1,67,68,8\nFN1,68,69,9\nFN1,69,70,11\nFN1,70,71,13\nFN1,71,72,9\nFN1,72,73,7\nFN1,73,74,6\nFN1,74,76,7\nFN1,76,78,8\nFN1,78,79,9\nFN1,79,80,8\nFN1,80,82,9\nFN1,82,83,9\nFN1,83,84,7\nFN1,84,85,6\nFN1,85,86,8\nFN1,86,88,9\nFN1,88,89,10\nFN1,89,90,7\nFN1,90,91,10\nFN1,91,92,8\nFN1,92,93,6\nFN1,93,94,8\nFN1,94,95,12\nFN1,95,96,7\nFN1,96,98,10\nFN1,98,99,6\nFN1,99,100,9\nFN1,100,101,10\nFN1,101,102,6\nFN1,102,103,11\nFN1,103,104,3\nFN1,104,105,6\nFN1,105,106,9\nFN1,106,107,8\nFN1,107,108,5\nFN1,108,109,10\nFN1,109,110,8\nFN1,110,111,1\nFN1,111,113,7\nFN1,113,114,9\nFN1,114,115,5\nFN1,115,116,10\nFN1,116,117,9\nFN1,117,118,2\nFN1,118,119,6\nFN1,119,120,8\nFN1,120,122,6\nFN1,122,124,5\nFN1,124,125,1\nFN1,125,126,6\nFN1,126,127,9\nFN1,127,128,2\nFN1,128,129,10\nFN1,129,130,1\nFN1,130,131,4\nFN1,131,134,7\nFN1,134,135,6\nFN1,135,136,8\nFN1,136,138,7\nFN1,138,139,6\nFN1,139,140,8\nFN1,140,141,6\nFN1,141,142,9\nFN1,142,143,7\nFN1,143,144,6\nFN1,144,146,7\nFN1,146,147,9\nFN1,147,148,6\nFN1,148,149,8\nFN1,149,150,7\nFN1,150,151,6\nFN1,151,152,6\nFN1,152,153,11\nFN1,153,154,3\nFN1,154,155,8\nFN1,155,156,2\nFN1,156,157,10\nFN1,157,158,6\nFN1,158,159,8\nFN1,159,160,7\nFN1,160,161,8\nFN1,161,162,9\nFN1,162,163,6\nFN1,163,164,3\nFN1,164,165,8\nFN1,165,166,6\nFN1,166,167,8\nFN1,167,168,6\nFN1,168,169,8\nFN1,169,170,6\nFN1,170,171,2\nFN1,171,172,1\nFN1,173,174,0.5\nFN1,174,175,5\nFN1,175,176,1\nFN1,176,177,7\nFN1,177,178,0.4\nFN1,178,179,0.4\nFN1,179,180,7\nFN1,180,181,4\nASS1,0,8.6,2\nASS1,9,181,2\nASS1,26,27,2.6\nASS1,29,30,2.8\nASS1,32,33,3\nASS1,46,47,12\nASS1,47,48,13\nASS1,48,49,11\nASS1,49,50,5\nASS1,50,51,8\nASS1,52,53,6\nASS1,53,54,13\nASS1,54,55,9\nASS1,55,56,8\nASS1,57,58,7\nASS1,58,59,6\nASS1,59,60,8\nASS1,60,62,10\nASS1,62,63,8\nASS1,63,64,10\nASS1,64,65,11\nASS1,65,66,7\nASS1,66,67,5\nASS1,67,68,12\nASS1,68,69,9\nASS1,69,70,10\nASS1,70,71,2\nASS1,71,73,13\nASS1,73,74,3\nASS1,74,75,6\nASS1,75,76,12\nASS1,76,77,7\nASS1,77,78,12\nASS1,78,79,6\nASS1,79,80,9\nASS1,80,81,11\nASS1,81,82,7\nASS1,82,83,6\nASS1,83,84,6\nASS1,84,85,12\nASS1,85,86,6\nASS1,86,87,12\nASS1,87,88,8\nASS1,88,89,10\nASS1,89,90,13\nASS1,90,92,11\nASS1,92,93,7\nASS1,94,95,8\nASS1,95,96,8\nASS1,96,97,9\nASS1,98,99,11\nASS1,99,100,10\nASS1,102,104,10\nASS1,104,105,3\nASS1,105,107,9\nASS1,108,109,2.6\nASS1,109,111,13\nASS1,111,112,10\nASS1,112,113,3\nASS1,113,114,9\nASS1,114,115,6\nASS1,115,116,10\nASS1,118,119,2\nASS1,119,120,6\nASS1,120,121,3\nASS1,122,123,6\nASS1,123,124,9\nASS1,124,125,6\nASS1,125,126,2\nASS1,126,127,9\nASS1,127,128,6\nASS1,128,129,4\nASS1,129,130,10\nASS1,132,133,6\nASS1,133,134,11\nASS1,134,135,7\nASS1,135,136,2\nASS1,137,138,8\nASS1,138,139,6\nASS1,141,142,7\nASS1,142,143,11\nASS1,143,144,7\nASS1,145,146,6\nASS1,146,147,7\nASS1,148,149,11\nASS1,149,150,7\nASS1,150,151,6\nASS1,151,152,6\nASS1,152,153,13\nASS1,153,155,2\nASS1,155,156,2.4\nASS1,157,158,7\nASS1,159,160,2.6\nASS1,161,162,3\nASS1,162,163,6\nASS1,163,164,5\nASS1,165,166,8\nASS1,166,167,9\nASS1,168,169,3\nASS1,170,172,2.4\nASS1,175,176,7\nASS1,176,177,8\nASS1,178,180,2.4\nASS1,180,181,9\nMMP3,0,8.6,1.6\nMMP3,0,1.7,2.5\nMMP3,3.4,5.2,2.6\nMMP3,9,46,1.6\nMMP3,12,13,2.5\nMMP3,14,15,2.2\nMMP3,17,18,2\nMMP3,18,19,2.5\nMMP3,25,26,4\nMMP3,27,28,2\nMMP3,37,38,3.5\nMMP3,40,41,3\nMMP3,42,43,6\nMMP3,46,83,10\nMMP3,46,49,9\nMMP3,49,50,3\nMMP3,50,51,9\nMMP3,51,52,7\nMMP3,52,53,8\nMMP3,53,55,10\nMMP3,58,59,9\nMMP3,60,61,6\nMMP3,61,62,9\nMMP3,62,63,6\nMMP3,68,69,2\nMMP3,70,72,9\nMMP3,72,73,6\nMMP3,76,77,9\nMMP3,79,80,1\nMMP3,80,81,9\nMMP3,81,82,8\nMMP3,82,83,9\nMMP3,83,88,10\nMMP3,88,89,1\nMMP3,89,91,9\nMMP3,91,92,8\nMMP3,92,93,9\nMMP3,93,94,7\nMMP3,94,95,10\nMMP3,106,107,9\nMMP3,110,111,7\nMMP3,112,114,11\nMMP3,115,116,9\nMMP3,116,118,11\nMMP3,118,119,4\nMMP3,119,120,8\nMMP3,120,121,2\nMMP3,122,124,1\nMMP3,124,125,6\nMMP3,125,126,2\nMMP3,126,127,8\nMMP3,127,128,7\nMMP3,128,129,8\nMMP3,129,130,4\nMMP3,130,131,10\nMMP3,131,132,2\nMMP3,132,133,7\nMMP3,133,134,9\nMMP3,134,135,2\nMMP3,135,136,3\nMMP3,136,137,9\nMMP3,137,139,2\nMMP3,139,140,8\nMMP3,140,141,2\nMMP3,141,144,7\nMMP3,144,147,1\nMMP3,147,148,8\nMMP3,148,149,9\nMMP3,149,151,2\nMMP3,151,152,2\nMMP3,152,153,8\nMMP3,153,155,8\nMMP3,155,157,5\nMMP3,157,159,8\nMMP3,159,160,3\nMMP3,160,161,7\nMMP3,161,162,8\nMMP3,162,163,6\nMMP3,163,164,8\nMMP3,164,165,10\nMMP3,165,166,1\nMMP3,166,167,7\nMMP3,167,168,3\nMMP3,168,169,9\nMMP3,170,172,1\nMMP3,172,175,1.2\nMMP3,175,176,10\nMMP3,176,177,2\nMMP3,177,178,1\nMMP3,178,179,10\nMMP3,179,180,1\nMMP3,180,181,2\nSLC7A2,0,8.6,1\nSLC7A2,9,46,1\nSLC7A2,21,22,2\nSLC7A2,24,25,2.2\nSLC7A2,31,32,2.5\nSLC7A2,37,38,2.5\nSLC7A2,46,47,1\nSLC7A2,47,49,8\nSLC7A2,49,50,12\nSLC7A2,50,51,2\nSLC7A2,51,52,1\nSLC7A2,52,53,6\nSLC7A2,53,54,9\nSLC7A2,54,55,7\nSLC7A2,55,56,8\nSLC7A2,56,57,11\nSLC7A2,57,59,8\nSLC7A2,59,60,10\nSLC7A2,60,62,7\nSLC7A2,62,64,9\nSLC7A2,64,65,7\nSLC7A2,65,67,7\nSLC7A2,67,69,11\nSLC7A2,69,70,13\nSLC7A2,70,71,5\nSLC7A2,71,72,11\nSLC7A2,72,73,8\nSLC7A2,73,74,12\nSLC7A2,74,76,9\nSLC7A2,76,77,7\nSLC7A2,77,78,8\nSLC7A2,78,79,5\nSLC7A2,79,81,11\nSLC7A2,81,83,8\nSLC7A2,83,84,9\nSLC7A2,84,85,7\nSLC7A2,85,86,9\nSLC7A2,86,89,6\nSLC7A2,89,91,7\nSLC7A2,91,92,9\nSLC7A2,92,93,5\nSLC7A2,93,95,11\nSLC7A2,95,96,8\nSLC7A2,96,97,9\nSLC7A2,97,98,7\nSLC7A2,98,99,9\nSLC7A2,99,100,8\nSLC7A2,100,101,4\nSLC7A2,101,102,10\nSLC7A2,102,103,7\nSLC7A2,103,104,11\nSLC7A2,104,105,5\nSLC7A2,105,106,9\nSLC7A2,106,107,10\nSLC7A2,107,108,11\nSLC7A2,108,109,6\nSLC7A2,109,112,8\nSLC7A2,112,113,6\nSLC7A2,113,115,8\nSLC7A2,115,116,7\nSLC7A2,116,117,9\nSLC7A2,117,118,12\nSLC7A2,118,119,1\nSLC7A2,119,120,0.8\nSLC7A2,120,122,1\nSLC7A2,122,123,6\nSLC7A2,123,124,9\nSLC7A2,124,125,8\nSLC7A2,125,126,9\nSLC7A2,126,127,4\nSLC7A2,127,128,6\nSLC7A2,128,130,8\nSLC7A2,130,131,6\nSLC7A2,131,132,9\nSLC7A2,132,134,6\nSLC7A2,134,136,4\nSLC7A2,136,139,8\nSLC7A2,139,140,8\nSLC7A2,140,141,6\nSLC7A2,141,143,4\nSLC7A2,143,145,8\nSLC7A2,145,146,7\nSLC7A2,146,147,8\nSLC7A2,147,149,7\nSLC7A2,149,151,8\nSLC7A2,151,152,6\nSLC7A2,152,153,9\nSLC7A2,153,154,1\nSLC7A2,154,155,3\nSLC7A2,155,156,7\nSLC7A2,156,157,4\nSLC7A2,157,158,6\nSLC7A2,158,159,8\nSLC7A2,159,160,11\nSLC7A2,160,161,1\nSLC7A2,161,162,8\nSLC7A2,162,163,1\nSLC7A2,163,164,9\nSLC7A2,164,165,8\nSLC7A2,165,166,13\nSLC7A2,166,167,7\nSLC7A2,167,169,7\nSLC7A2,169,171,0.8\nSLC7A2,171,172,1\nSLC7A2,172,173,5\nSLC7A2,173,174,1\nSLC7A2,174,176,1\nSLC7A2,176,177,8\nSLC7A2,177,178,1\nSLC7A2,178,179,6\nSLC7A2,179,181,1\nRIN2,0,8.6,1.4\nRIN2,9,46,1.4\nRIN2,9,10,4\nRIN2,10,11,6\nRIN2,14,15,2\nRIN2,16,18,6\nRIN2,19,20,4\nRIN2,21,22,2.4\nRIN2,26,27,3.8\nRIN2,28,29,5\nRIN2,31,32,6\nRIN2,33,34,2\nRIN2,36,37,3\nRIN2,38,39,3\nRIN2,42,43,6\nRIN2,43,44,3\nRIN2,46,49,9\nRIN2,49,50,7\nRIN2,50,52,10\nRIN2,52,53,11\nRIN2,53,54,1\nRIN2,54,55,3\nRIN2,55,57,8\nRIN2,57,59,10\nRIN2,59,60,4\nRIN2,60,62,12\nRIN2,62,63,9\nRIN2,63,64,7\nRIN2,64,65,12\nRIN2,65,66,1\nRIN2,66,67,6\nRIN2,67,68,10\nRIN2,68,69,9\nRIN2,69,70,13\nRIN2,70,72,9\nRIN2,72,74,13\nRIN2,74,75,3\nRIN2,75,77,9\nRIN2,77,78,13\nRIN2,78,80,9\nRIN2,80,82,9\nRIN2,82,83,9\nRIN2,83,84,9\nRIN2,84,85,5\nRIN2,85,86,1\nRIN2,86,87,9\nRIN2,87,88,11\nRIN2,88,90,7\nRIN2,90,91,9\nRIN2,91,92,6\nRIN2,92,93,11\nRIN2,93,94,9\nRIN2,94,96,12\nRIN2,96,99,10\nRIN2,99,100,11\nRIN2,100,102,11\nRIN2,102,103,10\nRIN2,104,105,6\nRIN2,105,106,1.5\nRIN2,106,107,11\nRIN2,107,108,12\nRIN2,108,109,13\nRIN2,109,110,1\nRIN2,110,112,10\nRIN2,112,113,9\nRIN2,113,114,9\nRIN2,114,118,9\nRIN2,118,119,7\nRIN2,119,120,6\nRIN2,120,121,4\nRIN2,121,122,3\nRIN2,122,123,6\nRIN2,123,124,2\nRIN2,124,125,9\nRIN2,125,126,2\nRIN2,126,127,9\nRIN2,127,128,2\nRIN2,128,129,8\nRIN2,129,130,2\nRIN2,130,131,6\nRIN2,131,132,3\nRIN2,132,133,8\nRIN2,133,134,6\nRIN2,134,135,4\nRIN2,135,136,3\nRIN2,136,137,1\nRIN2,137,138,3\nRIN2,138,139,1\nRIN2,139,141,1\nRIN2,141,142,4\nRIN2,142,143,3\nRIN2,143,144,4\nRIN2,144,145,7\nRIN2,145,146,3\nRIN2,146,147,6\nRIN2,147,148,3\nRIN2,148,149,1\nRIN2,149,151,3\nRIN2,151,152,7\nRIN2,152,153,13\nRIN2,153,154,2\nRIN2,154,155,2\nRIN2,155,156,9\nRIN2,156,158,1\nRIN2,158,160,4\nRIN2,160,161,6\nRIN2,161,162,2\nRIN2,162,163,6\nRIN2,163,164,1\nRIN2,164,165,7\nRIN2,165,166,3\nRIN2,166,169,1\nRIN2,169,170,2\nRIN2,170,171,1\nRIN2,171,172,1\nRIN2,172,173,6\nRIN2,173,174,2\nRIN2,174,175,6\nRIN2,175,177,1\nRIN2,177,178,6\nRIN2,178,179,2\nRIN2,179,181,1\nSELP,0,8.6,4\nSELP,9,181,4\nSELP,29,30,7\nSELP,34,35,5\nSELP,46,47,4\nSELP,48,49,11\nSELP,51,52,11\nSELP,53,54,9\nSELP,56,57,4\nSELP,57,58,9\nSELP,58,59,4\nSELP,60,62,13\nSELP,62,63,5\nSELP,63,64,4\nSELP,65,66,8\nSELP,66,67,6\nSELP,67,68,4\nSELP,69,71,13\nSELP,71,72,6\nSELP,72,73,11\nSELP,74,76,13\nSELP,76,78,5\nSELP,78,79,11\nSELP,79,81,13\nSELP,82,83,9\nSELP,83,84,13\nSELP,85,86,13\nSELP,86,87,5\nSELP,87,89,13\nSELP,90,92,13\nSELP,93,94,5\nSELP,95,96,13\nSELP,97,98,11\nSELP,98,99,9\nSELP,100,101,4\nSELP,101,102,13\nSELP,103,105,13\nSELP,105,106,6\nSELP,107,108,11\nSELP,108,109,4\nSELP,109,110,4\nSELP,111,112,8\nSELP,112,113,11\nSELP,113,114,13\nSELP,114,115,11\nSELP,116,117,9\nSELP,117,118,10\nSELP,118,151,3.8\nSELP,151,181,3.8\nSELP,152,153,5\nSELP,154,155,6\nSELP,155,156,11\nSELP,157,158,5\nSELP,158,159,6\nSELP,160,161,6\nSELP,161,162,6\nSELP,163,164,5\nSELP,165,166,7\nSELP,166,167,6\nSELP,172,173,6\nSELP,173,174,8\nSELP,175,176,6\nGABRA4,0,8.6,3\nGABRA4,9,181,3\nGABRA4,46,47,3\nGABRA4,47,48,11\nGABRA4,48,49,13\nGABRA4,49,50,10\nGABRA4,50,51,4\nGABRA4,51,52,10\nGABRA4,52,53,5\nGABRA4,53,54,13\nGABRA4,55,56,9\nGABRA4,56,57,13\nGABRA4,57,58,7\nGABRA4,59,60,13\nGABRA4,60,61,6\nGABRA4,61,62,8\nGABRA4,62,63,6\nGABRA4,63,64,10\nGABRA4,64,66,10\nGABRA4,66,67,6\nGABRA4,68,69,13\nGABRA4,69,71,9\nGABRA4,71,73,13\nGABRA4,73,74,3\nGABRA4,74,75,10\nGABRA4,75,76,13\nGABRA4,76,77,9\nGABRA4,77,78,11\nGABRA4,78,79,10\nGABRA4,79,80,13\nGABRA4,80,81,3\nGABRA4,83,84,7\nGABRA4,84,85,6\nGABRA4,85,86,11\nGABRA4,86,87,5\nGABRA4,87,88,11\nGABRA4,88,89,8\nGABRA4,89,90,13\nGABRA4,91,92,11\nGABRA4,92,93,13\nGABRA4,94,95,10\nGABRA4,95,96,13\nGABRA4,96,97,7\nGABRA4,97,98,5\nGABRA4,98,100,13\nGABRA4,100,102,10\nGABRA4,102,103,13\nGABRA4,103,104,3\nGABRA4,104,105,8\nGABRA4,105,106,11\nGABRA4,106,107,9\nGABRA4,107,108,6\nGABRA4,108,109,3\nGABRA4,109,111,13\nGABRA4,111,112,6\nGABRA4,112,113,9\nGABRA4,114,115,13\nGABRA4,115,116,13\nGABRA4,116,117,6\nGABRA4,117,118,9\nGABRA4,119,120,10\nGABRA4,136,137,6\nGABRA4,137,138,6\nGABRA4,148,149,9\nGABRA4,154,155,11\nGABRA4,157,158,9\nGABRA4,159,160,6\nGABRA4,162,163,7\nGABRA4,165,166,9\nGABRA4,177,178,13","format":{"type":"csv","parse":{"c":"number","e":"number","v":"number"}}},"mark":{"type":"rect","strokeWidth":0.5},"encoding":{"x":{"field":"c","type":"quantitative","scale":{"domain":[0,181],"nice":false,"zero":false},"axis":null},"x2":{"field":"e"},"y":{"field":"g","type":"nominal","sort":["HAS1","GPRC5A","CLIC5","BTG2","BDKRB2","PRG4","TPR","CRTAC1","FN1","ASS1","MMP3","SLC7A2","RIN2","SELP","GABRA4"],"axis":{"title":null,"domain":false,"ticks":false,"labelFontSize":33.5,"labelFont":"Liberation Sans","labelPadding":13,"labelColor":"#111","labelOverlap":false,"labelLimit":400,"labelFontWeight":{"expr":"indexof(['TPSAB1','MMP2','PRG4','MMP3','MARCO'],datum.value)>=0?'bold':'normal'"}}},"color":{"field":"v","type":"quantitative","scale":{"domain":[0,1,2,3,4,5,6,7,8,9,10,11,12,13],"range":["#AA409B","#8E2A8D","#6B2468","#4F1A4E","#3A1638","#1F121C","#0E0C0E","#232310","#45451A","#6A6A2A","#8D8C33","#AFAD33","#CFCC2A","#F5EB14"]},"legend":null},"stroke":{"field":"v","type":"quantitative","scale":{"domain":[0,1,2,3,4,5,6,7,8,9,10,11,12,13],"range":["#AA409B","#8E2A8D","#6B2468","#4F1A4E","#3A1638","#1F121C","#0E0C0E","#232310","#45451A","#6A6A2A","#8D8C33","#AFAD33","#CFCC2A","#F5EB14"]},"legend":null}}},{"data":{"values":[{"c":46},{"c":83},{"c":118},{"c":151}]},"mark":{"type":"rule","color":"white","strokeWidth":1.6,"opacity":0.9},"encoding":{"x":{"field":"c","type":"quantitative"}}}]},
{"width":1263,"height":301,"layer":[{"data":{"values":"g,c,e,v\nIL1RN,0,8.6,5\nIL1RN,9,181,5\nIL1RN,9,10,8\nIL1RN,12,13,10\nIL1RN,16,17,11\nIL1RN,17,21,13\nIL1RN,22,23,13\nIL1RN,24,25,7\nIL1RN,26,27,8\nIL1RN,29,30,13\nIL1RN,30,31,6\nIL1RN,31,32,10\nIL1RN,32,33,9\nIL1RN,33,34,6\nIL1RN,35,36,13\nIL1RN,36,37,6\nIL1RN,37,39,13\nIL1RN,70,71,7\nIL1RN,84,85,7\nIL1RN,96,97,7\nIL1RN,103,104,7\nCXCL5,0,8.6,4.6\nCXCL5,9,181,4.6\nCXCL5,9,11,13\nCXCL5,12,13,13\nCXCL5,14,16,13\nCXCL5,16,17,10\nCXCL5,18,19,13\nCXCL5,19,20,8\nCXCL5,24,26,13\nCXCL5,27,28,13\nCXCL5,29,33,13\nCXCL5,34,35,6\nCXCL5,35,36,13\nCXCL5,36,37,7\nCXCL5,37,38,8\nCXCL5,38,39,13\nCXCL5,40,41,13\nCXCL5,42,43,13\nCXCL5,43,44,10\nCXCL5,44,45,6\nCXCL5,54,55,5\nCXCL5,91,92,5\nCXCL5,110,111,4\nCXCL2,0,8.6,3\nCXCL2,9,181,3.2\nCXCL2,9,10,7\nCXCL2,10,11,9\nCXCL2,12,16,13\nCXCL2,16,17,6\nCXCL2,17,18,10\nCXCL2,18,20,13\nCXCL2,20,21,12\nCXCL2,21,22,10\nCXCL2,22,23,8\nCXCL2,23,24,9\nCXCL2,24,25,11\nCXCL2,25,26,3\nCXCL2,26,27,10\nCXCL2,27,28,6\nCXCL2,28,29,11\nCXCL2,29,30,6\nCXCL2,30,31,10\nCXCL2,31,32,13\nCXCL2,32,33,11\nCXCL2,33,34,9\nCXCL2,34,35,10\nCXCL2,35,37,13\nCXCL2,37,38,9\nCXCL2,38,40,13\nCXCL2,40,41,10\nCXCL2,41,42,8\nCXCL2,42,46,13\nCXCL2,54,55,5\nCXCL2,55,56,6\nCXCL2,77,78,6\nCXCL2,84,85,4\nCXCL2,85,86,6\nCXCL2,92,93,10\nCXCL2,93,94,8\nCXCL2,102,103,5\nCXCL2,105,106,5\nCXCL2,108,110,7\nCXCL2,112,113,5\nCXCL2,118,119,6\nCXCL2,120,121,8\nCXCL2,125,126,7\nCXCL2,127,128,9\nCXCL2,130,131,6\nCXCL2,131,132,10\nCXCL2,138,139,13\nCXCL2,140,141,13\nCXCL3,0,8.6,3\nCXCL3,9,181,3.2\nCXCL3,9,10,10\nCXCL3,10,11,8\nCXCL3,12,16,13\nCXCL3,16,17,6\nCXCL3,17,18,13\nCXCL3,18,20,9\nCXCL3,20,21,10\nCXCL3,21,22,8\nCXCL3,22,23,10\nCXCL3,23,24,6\nCXCL3,25,26,6\nCXCL3,26,27,13\nCXCL3,27,28,11\nCXCL3,28,31,13\nCXCL3,31,32,8\nCXCL3,32,33,10\nCXCL3,33,38,13\nCXCL3,38,39,11\nCXCL3,39,43,13\nCXCL3,43,44,10\nCXCL3,44,46,13\nCXCL3,47,48,7\nCXCL3,58,59,8\nCXCL3,71,73,6\nCXCL3,75,76,5\nCXCL3,79,80,6\nCXCL3,84,85,6\nCXCL3,88,89,7\nCXCL3,90,91,5\nCXCL3,92,93,5\nCXCL3,93,94,10\nCXCL3,94,95,5\nCXCL3,95,96,7\nCXCL3,100,101,5\nCXCL3,109,110,6\nCXCL3,119,120,6\nCXCL3,124,126,6\nCXCL3,130,131,6\nCXCL3,138,139,13\nCXCL3,141,142,5\nIL1B,0,1.7,8.5\nIL1B,1.7,3.4,5\nIL1B,3.4,8.6,3.7\nIL1B,9,181,3.7\nIL1B,9,11,13\nIL1B,12,16,13\nIL1B,17,22,13\nIL1B,22,23,6\nIL1B,24,28,13\nIL1B,28,29,6\nIL1B,29,30,10\nIL1B,30,34,13\nIL1B,34,35,10\nIL1B,35,36,13\nIL1B,37,39,13\nIL1B,40,41,13\nIL1B,41,42,11\nIL1B,42,43,12\nIL1B,43,44,9\nIL1B,55,56,6\nIL1B,75,76,5\nIL1B,88,89,5\nIL1B,89,90,5\nIL1B,100,101,7\nIL1B,103,104,5\nIL1B,106,107,6\nIL1B,123,124,7\nIL1B,126,127,7\nIL1B,129,130,5\nIL1B,133,134,6\nIL1B,135,136,6\nIL1B,138,139,7\nIL1B,139,140,5\nIL1B,143,144,7\nIL1B,152,153,5\nIL1B,161,162,6\nIL1B,162,163,7\nIL1B,178,179,7\nMARCO,0,8.6,4.3\nMARCO,9,181,4.3\nMARCO,9,11,13\nMARCO,12,16,13\nMARCO,16,17,8\nMARCO,17,18,6\nMARCO,18,19,13\nMARCO,19,20,12\nMARCO,20,21,13\nMARCO,21,22,12\nMARCO,22,23,13\nMARCO,25,26,9\nMARCO,26,29,13\nMARCO,30,31,13\nMARCO,31,32,6\nMARCO,32,33,13\nMARCO,33,34,10\nMARCO,34,35,13\nMARCO,36,39,13\nMARCO,39,42,13\nMARCO,43,45,13\nMARCO,45,46,13\nMARCO,60,61,7\nMARCO,74,75,5\nMARCO,91,92,5\nMARCO,118,119,5\nMARCO,121,122,6\nMARCO,151,152,5\nMARCO,173,174,7\nHLA-DRA,0,8.6,3.8\nHLA-DRA,9,181,3.8\nHLA-DRA,9,14,13\nHLA-DRA,14,15,10\nHLA-DRA,15,16,8\nHLA-DRA,16,17,9\nHLA-DRA,17,18,11\nHLA-DRA,18,19,9\nHLA-DRA,19,22,13\nHLA-DRA,22,23,8\nHLA-DRA,23,25,13\nHLA-DRA,25,26,8\nHLA-DRA,26,27,10\nHLA-DRA,27,29,13\nHLA-DRA,30,31,11\nHLA-DRA,31,32,11\nHLA-DRA,32,33,13\nHLA-DRA,33,34,9\nHLA-DRA,34,35,13\nHLA-DRA,35,36,10\nHLA-DRA,36,37,11\nHLA-DRA,37,39,13\nHLA-DRA,40,42,13\nHLA-DRA,42,43,11\nHLA-DRA,43,44,13\nHLA-DRA,44,45,9\nHLA-DRA,45,46,10\nHLA-DRA,136,137,9\nHLA-DRA,112,113,6\nHLA-DRA,174,175,7\nHLA-DRA,176,178,7\nCD74,0,1.7,10\nCD74,1.7,3.4,6\nCD74,3.4,5.2,9\nCD74,5.2,8.6,3\nCD74,9,181,3\nCD74,9,14,13\nCD74,14,15,11\nCD74,15,17,9\nCD74,17,19,10\nCD74,19,20,11\nCD74,20,22,13\nCD74,22,23,11\nCD74,23,25,13\nCD74,25,26,13\nCD74,26,27,11\nCD74,27,29,13\nCD74,29,30,8\nCD74,30,31,9\nCD74,31,32,12\nCD74,32,33,10\nCD74,33,34,13\nCD74,34,35,9\nCD74,35,37,13\nCD74,37,38,11\nCD74,38,39,6\nCD74,39,41,13\nCD74,41,43,10\nCD74,43,46,11\nCD74,58,59,8\nCD74,70,71,5\nCD74,72,73,6\nCD74,86,87,5\nCD74,87,89,10\nCD74,89,90,6\nCD74,90,92,9\nCD74,94,95,6\nCD74,98,99,9\nCD74,101,102,6\nCD74,109,110,9\nCD74,111,113,7\nCD74,113,114,6\nCD74,118,119,7\nCD74,121,122,6\nCD74,124,125,8\nCD74,127,128,5\nCD74,129,130,5\nCD74,131,132,8\nCD74,135,136,5\nCD74,139,140,9\nCD74,142,143,7\nCD74,145,146,8\nCD74,151,152,7\nCD74,155,156,6\nCD74,156,157,8\nCD74,159,160,5\nCD74,165,166,5\nCD74,178,179,8\nAC243829.4,0,1.7,8\nAC243829.4,1.7,8.6,4.2\nAC243829.4,9,181,4.2\nAC243829.4,9,10,13\nAC243829.4,10,11,8\nAC243829.4,11,12,5\nAC243829.4,12,16,13\nAC243829.4,17,19,13\nAC243829.4,19,20,10\nAC243829.4,20,21,13\nAC243829.4,22,23,7\nAC243829.4,25,28,13\nAC243829.4,29,30,9\nAC243829.4,30,31,8\nAC243829.4,31,34,6\nAC243829.4,34,36,13\nAC243829.4,38,39,8\nAC243829.4,39,40,9\nAC243829.4,40,41,13\nAC243829.4,42,43,11\nAC243829.4,43,46,13\nAC243829.4,49,50,6\nAC243829.4,53,54,5\nAC243829.4,58,59,6\nAC243829.4,76,77,13\nAC243829.4,88,89,6\nAC243829.4,97,98,6\nAC243829.4,119,120,8\nAC243829.4,122,123,5\nAC243829.4,129,130,6\nAC243829.4,135,136,5\nAC243829.4,137,138,5\nAC243829.4,139,140,13\nAC243829.4,145,146,8\nAC243829.4,154,155,5\nAC243829.4,165,166,13\nCCL3,0,1.7,8\nCCL3,1.7,8.6,4.2\nCCL3,9,181,4.2\nCCL3,9,10,13\nCCL3,10,11,8\nCCL3,12,16,13\nCCL3,17,19,13\nCCL3,19,20,11\nCCL3,20,21,13\nCCL3,22,23,7\nCCL3,25,28,13\nCCL3,29,31,9\nCCL3,31,34,5.7\nCCL3,34,36,13\nCCL3,38,39,8\nCCL3,39,40,9\nCCL3,40,41,13\nCCL3,42,43,11\nCCL3,43,46,13\nCCL3,49,50,6\nCCL3,53,54,5.5\nCCL3,58,59,6\nCCL3,76,77,13\nCCL3,88,89,8\nCCL3,97,98,6\nCCL3,119,120,8\nCCL3,122,123,5\nCCL3,129,130,6\nCCL3,134,135,6\nCCL3,137,138,5\nCCL3,139,140,13\nCCL3,145,146,8\nCCL3,153,154,5.5\nCCL3,158,159,7\nCCL3,165,166,12\nCCL3,178,179,7","format":{"type":"csv","parse":{"c":"number","e":"number","v":"number"}}},"mark":{"type":"rect","strokeWidth":0.5},"encoding":{"x":{"field":"c","type":"quantitative","scale":{"domain":[0,181],"nice":false,"zero":false},"axis":null},"x2":{"field":"e"},"y":{"field":"g","type":"nominal","sort":["IL1RN","CXCL5","CXCL2","CXCL3","IL1B","MARCO","HLA-DRA","CD74","AC243829.4","CCL3"],"axis":{"title":null,"domain":false,"ticks":false,"labelFontSize":33.5,"labelFont":"Liberation Sans","labelPadding":13,"labelColor":"#111","labelOverlap":false,"labelLimit":400,"labelFontWeight":{"expr":"indexof(['TPSAB1','MMP2','PRG4','MMP3','MARCO'],datum.value)>=0?'bold':'normal'"}}},"color":{"field":"v","type":"quantitative","scale":{"domain":[0,1,2,3,4,5,6,7,8,9,10,11,12,13],"range":["#AA409B","#8E2A8D","#6B2468","#4F1A4E","#3A1638","#1F121C","#0E0C0E","#232310","#45451A","#6A6A2A","#8D8C33","#AFAD33","#CFCC2A","#F5EB14"]},"legend":null},"stroke":{"field":"v","type":"quantitative","scale":{"domain":[0,1,2,3,4,5,6,7,8,9,10,11,12,13],"range":["#AA409B","#8E2A8D","#6B2468","#4F1A4E","#3A1638","#1F121C","#0E0C0E","#232310","#45451A","#6A6A2A","#8D8C33","#AFAD33","#CFCC2A","#F5EB14"]},"legend":null}}},{"data":{"values":[{"c":46},{"c":83},{"c":118},{"c":151}]},"mark":{"type":"rule","color":"white","strokeWidth":1.6,"opacity":0.9},"encoding":{"x":{"field":"c","type":"quantitative"}}}]},
{"width":1263,"height":50,"layer":[{"data":{"values":[{"c":128.5,"e":166.7}]},"mark":{"type":"rect","height":22,"yOffset":37,"color":{"gradient":"linear","x1":0,"y1":0,"x2":1,"y2":0,"stops":[{"offset":0,"color":"#AA409B"},{"offset":0.3,"color":"#5A1C58"},{"offset":0.5,"color":"#0E0C0E"},{"offset":0.75,"color":"#6A6A2A"},{"offset":1,"color":"#F5EB14"}]}},"encoding":{"x":{"field":"c","type":"quantitative","scale":{"domain":[0,181],"nice":false,"zero":false},"axis":null},"x2":{"field":"e"}}},{"data":{"values":[{"c":115.4,"t":"Low"},{"c":169,"t":"High"}]},"mark":{"type":"text","fontSize":36,"align":"left","dy":12,"color":"#111"},"encoding":{"x":{"field":"c","type":"quantitative"},"text":{"field":"t"}}}]}
]}
